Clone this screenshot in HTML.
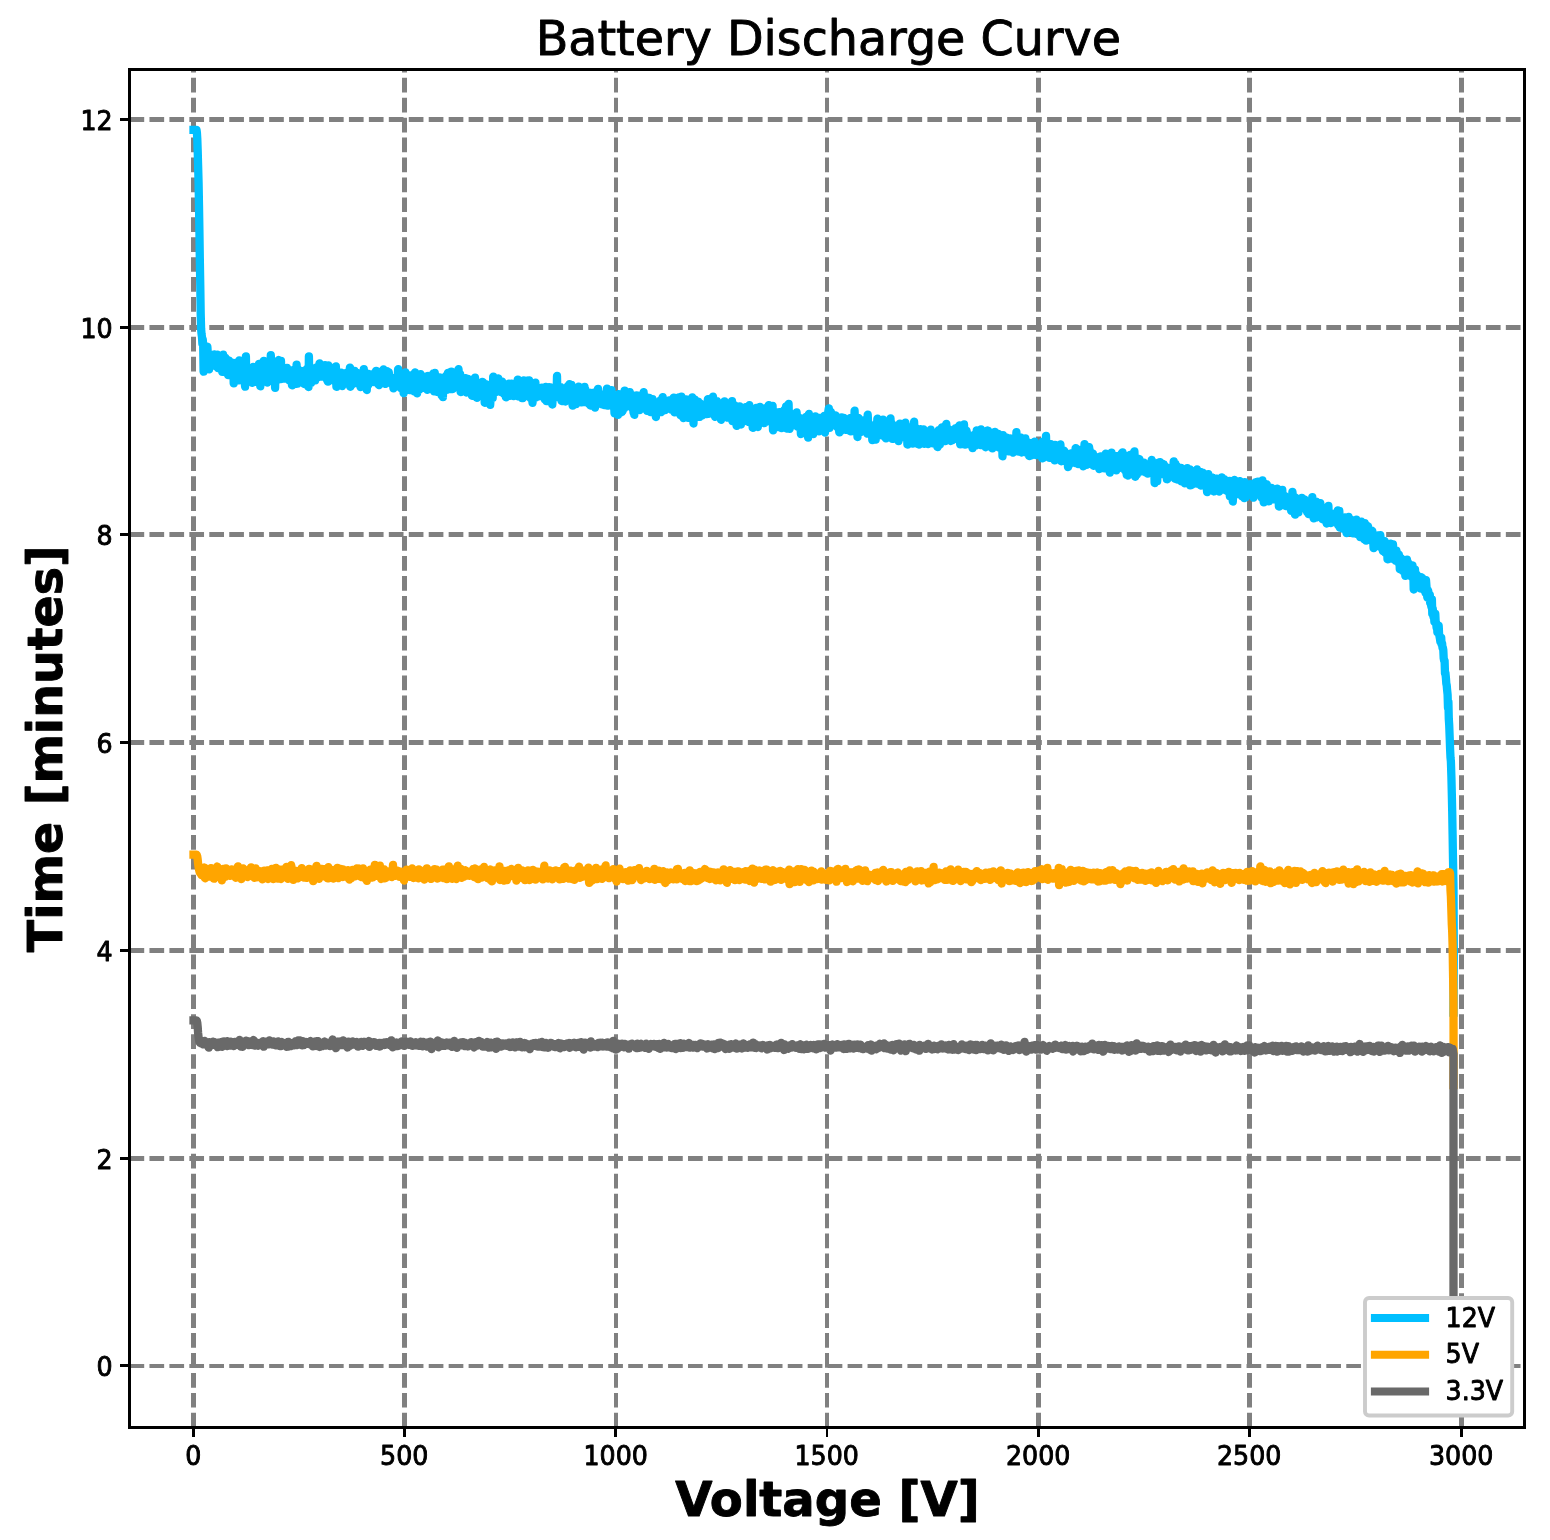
<!DOCTYPE html>
<html lang="en"><head><meta charset="utf-8"><title>Battery Discharge Curve</title>
<style>html,body{margin:0;padding:0;background:#fff;}body{width:1550px;height:1540px;overflow:hidden;}svg{display:block;}text{font-family:"DejaVu Sans","Liberation Sans",sans-serif;fill:#000;stroke:#000;stroke-width:0.90px;stroke-linejoin:round;}</style>
</head><body>
<svg width="1550" height="1540" viewBox="0 0 1550 1540">
<rect x="0" y="0" width="1550" height="1540" fill="#fff"/>
<defs><clipPath id="ax"><rect x="129.5" y="69.5" width="1395.0" height="1358.0"/></clipPath></defs>
<g clip-path="url(#ax)" stroke="#808080" fill="none">
<line stroke-dasharray="14.7 5.225" stroke-width="5.00" x1="193.50" y1="1427.50" x2="193.50" y2="69.50"/>
<line stroke-dasharray="14.7 5.225" stroke-width="5.00" x1="404.50" y1="1427.50" x2="404.50" y2="69.50"/>
<line stroke-dasharray="14.7 5.225" stroke-width="4.00" x1="616.00" y1="1427.50" x2="616.00" y2="69.50"/>
<line stroke-dasharray="14.7 5.225" stroke-width="4.00" x1="827.00" y1="1427.50" x2="827.00" y2="69.50"/>
<line stroke-dasharray="14.7 5.225" stroke-width="5.00" x1="1038.50" y1="1427.50" x2="1038.50" y2="69.50"/>
<line stroke-dasharray="14.7 5.225" stroke-width="5.00" x1="1249.50" y1="1427.50" x2="1249.50" y2="69.50"/>
<line stroke-dasharray="14.7 5.225" stroke-width="5.00" x1="1461.50" y1="1427.50" x2="1461.50" y2="69.50"/>
<line stroke-dasharray="14.7 5.247" stroke-width="4.00" x1="129.50" y1="1366.00" x2="1524.50" y2="1366.00"/>
<line stroke-dasharray="14.7 5.247" stroke-width="5.00" x1="129.50" y1="1158.50" x2="1524.50" y2="1158.50"/>
<line stroke-dasharray="14.7 5.247" stroke-width="5.00" x1="129.50" y1="950.50" x2="1524.50" y2="950.50"/>
<line stroke-dasharray="14.7 5.247" stroke-width="5.00" x1="129.50" y1="742.50" x2="1524.50" y2="742.50"/>
<line stroke-dasharray="14.7 5.247" stroke-width="5.00" x1="129.50" y1="534.50" x2="1524.50" y2="534.50"/>
<line stroke-dasharray="14.7 5.247" stroke-width="5.00" x1="129.50" y1="327.50" x2="1524.50" y2="327.50"/>
<line stroke-dasharray="14.7 5.247" stroke-width="5.00" x1="129.50" y1="119.50" x2="1524.50" y2="119.50"/>
</g>
<g clip-path="url(#ax)" fill="none" stroke-width="8.30" stroke-linejoin="round" stroke-linecap="square">
<polyline stroke="#00bfff" points="193.5,129.9 193.9,129.9 194.3,129.9 194.8,129.9 195.2,129.9 195.6,129.9 196.0,129.9 196.5,129.9 196.9,132.6 197.3,139.1 197.7,150.7 198.1,165.0 198.6,183.6 199.0,205.5 199.4,230.1 199.8,257.7 200.3,287.2 200.7,313.8 201.1,328.6 201.5,333.5 202.0,337.2 202.4,343.9 202.8,339.7 203.2,346.1 203.6,371.7 204.1,368.3 204.5,359.2 204.9,361.6 205.3,358.1 205.8,358.0 206.2,346.4 206.6,366.1 207.0,361.7 207.4,346.9 207.9,355.4 208.3,355.3 208.7,362.5 209.1,369.4 209.6,358.3 210.0,358.7 210.4,366.8 210.8,363.5 211.3,359.8 211.7,365.2 212.1,360.0 212.5,358.9 212.9,359.3 213.4,362.7 213.8,356.0 214.2,354.3 214.6,357.8 215.1,364.8 215.5,355.5 215.9,363.1 216.3,354.8 216.7,366.8 217.2,354.7 217.6,360.6 218.0,368.2 218.4,362.6 218.9,360.5 219.3,359.3 219.7,367.0 220.1,367.9 220.6,360.1 221.0,364.3 221.4,360.2 221.8,357.1 222.2,371.9 222.7,360.5 223.1,354.7 223.5,364.1 223.9,367.4 224.4,358.0 224.8,361.3 225.2,357.6 225.6,365.4 226.0,372.6 226.5,364.5 226.9,366.9 227.3,359.8 227.7,363.7 228.2,375.2 228.6,372.9 229.0,360.6 229.4,362.2 229.8,370.6 230.3,367.1 230.7,364.7 231.1,364.9 231.5,362.8 232.0,366.9 232.4,369.4 232.8,370.7 233.2,363.0 233.7,383.4 234.1,370.8 234.5,370.0 234.9,379.1 235.3,368.5 235.8,374.7 236.2,365.5 236.6,371.6 237.0,366.8 237.5,363.5 237.9,368.7 238.3,376.4 238.7,380.3 239.1,360.4 239.6,371.9 240.0,375.4 240.4,370.4 240.8,372.4 241.3,366.1 241.7,371.1 242.1,371.3 242.5,375.7 243.0,368.6 243.4,377.8 243.8,367.4 244.2,362.3 244.6,380.9 245.1,386.7 245.5,368.0 245.9,356.3 246.3,378.1 246.8,379.8 247.2,368.9 247.6,377.9 248.0,376.3 248.4,375.7 248.9,370.8 249.3,376.9 249.7,373.2 250.1,376.3 250.6,380.7 251.0,377.7 251.4,381.7 251.8,375.9 252.3,382.8 252.7,382.6 253.1,367.0 253.5,376.1 253.9,376.0 254.4,372.4 254.8,378.0 255.2,376.7 255.6,372.5 256.1,373.2 256.5,381.9 256.9,369.5 257.3,378.0 257.7,380.7 258.2,379.6 258.6,376.3 259.0,363.9 259.4,380.7 259.9,372.5 260.3,386.3 260.7,373.2 261.1,367.6 261.5,374.4 262.0,376.7 262.4,371.5 262.8,368.6 263.2,368.8 263.7,360.9 264.1,371.4 264.5,376.2 264.9,373.4 265.4,373.0 265.8,371.9 266.2,372.7 266.6,371.4 267.0,382.5 267.5,367.5 267.9,375.8 268.3,379.4 268.7,368.5 269.2,364.5 269.6,369.3 270.0,371.3 270.4,377.8 270.8,355.1 271.3,366.9 271.7,378.9 272.1,376.7 272.5,371.6 273.0,381.3 273.4,371.1 273.8,374.7 274.2,364.8 274.7,366.3 275.1,387.9 275.5,371.7 275.9,381.5 276.3,365.4 276.8,370.9 277.2,368.7 277.6,378.1 278.0,361.2 278.5,360.0 278.9,378.1 279.3,369.7 279.7,375.8 280.1,372.0 280.6,379.2 281.0,361.0 281.4,377.5 281.8,373.5 282.3,368.9 282.7,375.6 283.1,373.2 283.5,375.1 284.0,372.6 284.4,378.7 284.8,374.5 285.2,373.2 285.6,374.0 286.1,371.9 286.5,374.0 286.9,368.0 287.3,374.3 287.8,373.4 288.2,376.5 288.6,375.8 289.0,380.2 289.4,370.1 289.9,379.7 290.3,377.6 290.7,371.4 291.1,371.3 291.6,376.0 292.0,385.3 292.4,371.5 292.8,372.6 293.2,382.2 293.7,369.9 294.1,378.3 294.5,380.8 294.9,374.0 295.4,375.6 295.8,373.6 296.2,383.8 296.6,364.6 297.1,378.3 297.5,383.6 297.9,371.4 298.3,376.9 298.7,373.1 299.2,376.8 299.6,375.2 300.0,373.5 300.4,379.0 300.9,371.0 301.3,377.4 301.7,379.5 302.1,374.2 302.5,372.1 303.0,375.8 303.4,379.2 303.8,370.9 304.2,384.0 304.7,379.9 305.1,373.9 305.5,381.6 305.9,373.8 306.4,374.2 306.8,368.8 307.2,378.7 307.6,377.1 308.0,371.7 308.5,387.0 308.9,356.3 309.3,377.1 309.7,377.2 310.2,368.4 310.6,373.3 311.0,382.8 311.4,369.6 311.8,368.3 312.3,375.4 312.7,374.4 313.1,370.2 313.5,377.8 314.0,370.5 314.4,371.8 314.8,376.5 315.2,380.4 315.7,374.1 316.1,377.6 316.5,367.4 316.9,372.1 317.3,368.6 317.8,372.1 318.2,371.4 318.6,377.1 319.0,369.3 319.5,363.3 319.9,374.5 320.3,376.0 320.7,373.7 321.1,375.4 321.6,376.6 322.0,372.1 322.4,374.4 322.8,365.2 323.3,372.9 323.7,371.1 324.1,367.8 324.5,374.5 324.9,365.2 325.4,376.2 325.8,377.1 326.2,374.8 326.6,373.5 327.1,380.3 327.5,373.0 327.9,381.7 328.3,365.5 328.8,373.3 329.2,376.2 329.6,377.6 330.0,374.9 330.4,374.1 330.9,378.5 331.3,377.9 331.7,374.2 332.1,376.0 332.6,368.5 333.0,367.6 333.4,373.6 333.8,371.4 334.2,381.0 334.7,370.9 335.1,374.6 335.5,372.1 335.9,366.5 336.4,386.8 336.8,373.8 337.2,381.1 337.6,372.5 338.1,382.6 338.5,378.6 338.9,375.2 339.3,373.2 339.7,376.2 340.2,380.8 340.6,379.8 341.0,372.6 341.4,377.3 341.9,386.0 342.3,373.2 342.7,375.5 343.1,373.3 343.5,379.6 344.0,373.7 344.4,383.4 344.8,375.1 345.2,380.6 345.7,374.7 346.1,373.0 346.5,381.9 346.9,378.5 347.4,378.0 347.8,372.2 348.2,374.7 348.6,384.4 349.0,376.0 349.5,374.6 349.9,367.7 350.3,386.8 350.7,381.1 351.2,371.7 351.6,385.2 352.0,384.4 352.4,375.9 352.8,373.4 353.3,381.8 353.7,375.8 354.1,377.9 354.5,371.0 355.0,378.6 355.4,373.7 355.8,383.1 356.2,379.5 356.6,379.1 357.1,373.0 357.5,375.8 357.9,382.3 358.3,375.3 358.8,374.9 359.2,379.2 359.6,380.0 360.0,379.6 360.5,387.0 360.9,377.8 361.3,377.6 361.7,383.0 362.1,375.1 362.6,385.5 363.0,381.5 363.4,381.1 363.8,369.1 364.3,386.6 364.7,376.1 365.1,374.2 365.5,377.0 365.9,373.1 366.4,383.8 366.8,390.0 367.2,375.2 367.6,384.8 368.1,380.5 368.5,384.7 368.9,373.8 369.3,374.8 369.8,382.5 370.2,374.6 370.6,378.5 371.0,379.8 371.4,378.8 371.9,380.1 372.3,376.2 372.7,377.7 373.1,380.9 373.6,374.3 374.0,382.2 374.4,377.9 374.8,377.2 375.2,372.1 375.7,381.8 376.1,370.9 376.5,378.5 376.9,380.4 377.4,382.7 377.8,376.6 378.2,379.3 378.6,384.9 379.1,385.1 379.5,382.3 379.9,382.9 380.3,374.3 380.7,373.0 381.2,375.5 381.6,378.0 382.0,381.9 382.4,379.6 382.9,375.5 383.3,369.5 383.7,375.5 384.1,381.3 384.5,379.8 385.0,382.4 385.4,383.9 385.8,381.0 386.2,379.2 386.7,371.2 387.1,379.9 387.5,373.6 387.9,371.7 388.3,379.9 388.8,372.5 389.2,376.9 389.6,382.5 390.0,379.2 390.5,380.4 390.9,381.7 391.3,381.6 391.7,379.9 392.2,378.6 392.6,385.1 393.0,380.8 393.4,388.3 393.8,379.6 394.3,377.9 394.7,380.2 395.1,379.7 395.5,378.3 396.0,384.5 396.4,382.5 396.8,378.9 397.2,376.6 397.6,379.6 398.1,369.2 398.5,382.2 398.9,376.9 399.3,375.7 399.8,382.6 400.2,386.1 400.6,387.9 401.0,381.5 401.5,376.9 401.9,381.1 402.3,381.7 402.7,384.4 403.1,379.9 403.6,393.2 404.0,381.7 404.4,382.8 404.8,389.7 405.3,372.4 405.7,389.9 406.1,388.5 406.5,389.1 406.9,377.9 407.4,387.7 407.8,380.2 408.2,380.6 408.6,382.3 409.1,390.0 409.5,386.6 409.9,375.5 410.3,390.0 410.8,387.8 411.2,384.5 411.6,379.8 412.0,382.5 412.4,380.1 412.9,389.0 413.3,379.1 413.7,381.0 414.1,391.5 414.6,376.2 415.0,372.5 415.4,387.4 415.8,383.4 416.2,376.8 416.7,390.8 417.1,393.3 417.5,389.8 417.9,386.2 418.4,386.3 418.8,380.4 419.2,382.0 419.6,389.4 420.0,380.5 420.5,374.1 420.9,377.3 421.3,378.3 421.7,383.0 422.2,378.2 422.6,387.7 423.0,379.3 423.4,383.3 423.9,377.3 424.3,380.5 424.7,388.1 425.1,382.1 425.5,376.7 426.0,388.1 426.4,385.3 426.8,386.3 427.2,389.8 427.7,377.8 428.1,376.0 428.5,378.5 428.9,381.2 429.3,382.6 429.8,381.1 430.2,385.8 430.6,377.9 431.0,377.1 431.5,377.7 431.9,384.8 432.3,381.8 432.7,383.0 433.2,373.5 433.6,381.3 434.0,391.4 434.4,380.3 434.8,373.0 435.3,378.9 435.7,377.9 436.1,382.0 436.5,391.8 437.0,391.0 437.4,388.3 437.8,382.8 438.2,380.7 438.6,378.8 439.1,383.9 439.5,377.5 439.9,383.6 440.3,385.6 440.8,378.0 441.2,386.7 441.6,395.5 442.0,387.4 442.5,381.7 442.9,397.2 443.3,383.9 443.7,383.8 444.1,389.2 444.6,389.4 445.0,384.5 445.4,384.9 445.8,376.0 446.3,380.4 446.7,389.9 447.1,386.4 447.5,378.8 447.9,372.9 448.4,380.3 448.8,380.7 449.2,373.1 449.6,382.3 450.1,383.7 450.5,389.1 450.9,384.7 451.3,371.6 451.7,389.1 452.2,382.1 452.6,389.1 453.0,381.6 453.4,377.9 453.9,383.4 454.3,378.6 454.7,378.7 455.1,380.1 455.6,373.9 456.0,378.5 456.4,383.8 456.8,385.7 457.2,386.5 457.7,380.1 458.1,384.0 458.5,369.2 458.9,373.6 459.4,383.6 459.8,384.3 460.2,374.5 460.6,392.0 461.0,385.0 461.5,378.3 461.9,387.4 462.3,385.4 462.7,384.8 463.2,379.9 463.6,382.6 464.0,381.4 464.4,380.5 464.9,383.3 465.3,378.1 465.7,387.2 466.1,390.7 466.5,392.5 467.0,391.8 467.4,386.6 467.8,379.0 468.2,383.3 468.7,387.1 469.1,389.5 469.5,386.9 469.9,386.4 470.3,387.3 470.8,391.7 471.2,387.2 471.6,380.0 472.0,395.8 472.5,386.5 472.9,395.8 473.3,384.8 473.7,389.5 474.2,396.2 474.6,385.8 475.0,377.6 475.4,386.1 475.8,381.2 476.3,387.4 476.7,397.8 477.1,385.0 477.5,389.7 478.0,394.9 478.4,384.2 478.8,386.8 479.2,390.9 479.6,384.3 480.1,392.9 480.5,385.7 480.9,393.5 481.3,386.4 481.8,394.5 482.2,382.0 482.6,388.1 483.0,382.4 483.4,393.4 483.9,391.8 484.3,385.4 484.7,402.8 485.1,394.6 485.6,384.3 486.0,387.0 486.4,384.4 486.8,390.5 487.3,386.1 487.7,392.3 488.1,395.2 488.5,396.6 488.9,390.9 489.4,390.7 489.8,390.9 490.2,404.9 490.6,397.2 491.1,389.9 491.5,385.7 491.9,389.8 492.3,391.1 492.7,397.9 493.2,376.7 493.6,391.8 494.0,378.2 494.4,378.7 494.9,385.0 495.3,389.2 495.7,385.7 496.1,392.0 496.6,385.2 497.0,386.5 497.4,384.0 497.8,382.0 498.2,378.3 498.7,388.7 499.1,381.8 499.5,390.9 499.9,391.5 500.4,390.3 500.8,392.1 501.2,382.7 501.6,383.1 502.0,381.5 502.5,388.0 502.9,386.6 503.3,390.9 503.7,393.8 504.2,386.2 504.6,387.2 505.0,394.0 505.4,385.8 505.9,397.3 506.3,389.8 506.7,392.1 507.1,391.7 507.5,394.5 508.0,384.6 508.4,386.5 508.8,383.6 509.2,388.8 509.7,395.8 510.1,391.3 510.5,395.3 510.9,387.3 511.3,383.6 511.8,387.8 512.2,392.3 512.6,391.1 513.0,388.2 513.5,396.2 513.9,388.3 514.3,387.9 514.7,391.4 515.1,390.7 515.6,387.7 516.0,392.4 516.4,392.3 516.8,384.3 517.3,386.9 517.7,379.7 518.1,392.6 518.5,396.4 519.0,383.1 519.4,382.9 519.8,391.2 520.2,394.7 520.6,387.7 521.1,396.1 521.5,389.2 521.9,398.2 522.3,388.8 522.8,398.0 523.2,388.9 523.6,380.4 524.0,389.2 524.4,384.2 524.9,391.2 525.3,392.5 525.7,395.5 526.1,383.2 526.6,388.7 527.0,380.6 527.4,394.4 527.8,389.9 528.3,388.5 528.7,382.2 529.1,380.3 529.5,392.5 529.9,395.0 530.4,398.1 530.8,383.3 531.2,390.4 531.6,393.2 532.1,390.5 532.5,402.9 532.9,398.9 533.3,386.1 533.7,388.9 534.2,390.2 534.6,396.0 535.0,388.4 535.4,382.7 535.9,397.5 536.3,391.6 536.7,393.9 537.1,390.1 537.6,391.9 538.0,392.9 538.4,396.5 538.8,392.4 539.2,395.4 539.7,393.3 540.1,392.9 540.5,389.5 540.9,395.6 541.4,394.4 541.8,387.7 542.2,394.0 542.6,394.3 543.0,388.9 543.5,391.8 543.9,392.7 544.3,392.2 544.7,399.3 545.2,391.1 545.6,386.9 546.0,390.6 546.4,401.1 546.8,392.1 547.3,398.0 547.7,394.7 548.1,393.0 548.5,399.5 549.0,387.2 549.4,394.1 549.8,390.0 550.2,390.8 550.7,387.4 551.1,388.1 551.5,401.2 551.9,393.8 552.3,404.5 552.8,396.3 553.2,390.6 553.6,389.7 554.0,387.9 554.5,396.1 554.9,392.7 555.3,393.8 555.7,388.2 556.1,386.6 556.6,396.2 557.0,376.0 557.4,394.5 557.8,396.3 558.3,391.6 558.7,390.9 559.1,391.9 559.5,397.8 560.0,387.5 560.4,394.4 560.8,387.2 561.2,387.9 561.6,401.0 562.1,399.6 562.5,399.7 562.9,393.6 563.3,394.6 563.8,393.6 564.2,398.9 564.6,392.8 565.0,388.1 565.4,401.5 565.9,395.9 566.3,393.8 566.7,395.6 567.1,396.0 567.6,386.4 568.0,388.8 568.4,390.9 568.8,398.8 569.3,384.2 569.7,393.4 570.1,398.0 570.5,396.8 570.9,397.6 571.4,384.8 571.8,394.2 572.2,394.9 572.6,405.7 573.1,391.6 573.5,400.4 573.9,400.8 574.3,392.3 574.7,399.5 575.2,391.3 575.6,389.9 576.0,404.1 576.4,396.1 576.9,403.1 577.3,395.7 577.7,391.0 578.1,402.1 578.5,386.7 579.0,397.0 579.4,401.3 579.8,396.2 580.2,391.7 580.7,402.3 581.1,395.6 581.5,402.4 581.9,389.8 582.4,395.0 582.8,397.9 583.2,390.8 583.6,402.1 584.0,397.8 584.5,386.9 584.9,396.6 585.3,389.4 585.7,395.1 586.2,399.5 586.6,397.4 587.0,395.8 587.4,398.3 587.8,400.4 588.3,400.2 588.7,403.7 589.1,396.0 589.5,394.7 590.0,393.0 590.4,405.5 590.8,392.8 591.2,396.9 591.7,403.9 592.1,396.5 592.5,393.1 592.9,394.6 593.3,393.6 593.8,392.6 594.2,393.0 594.6,397.6 595.0,407.6 595.5,401.3 595.9,395.9 596.3,400.0 596.7,394.4 597.1,394.0 597.6,397.7 598.0,388.8 598.4,402.8 598.8,393.6 599.3,400.5 599.7,402.1 600.1,395.5 600.5,401.5 601.0,394.3 601.4,404.3 601.8,398.5 602.2,402.9 602.6,400.0 603.1,400.7 603.5,404.5 603.9,395.9 604.3,405.2 604.8,404.0 605.2,395.0 605.6,394.7 606.0,396.3 606.4,397.9 606.9,388.6 607.3,405.7 607.7,403.5 608.1,404.9 608.6,395.7 609.0,398.8 609.4,394.9 609.8,395.7 610.2,401.7 610.7,404.7 611.1,405.6 611.5,390.1 611.9,396.3 612.4,398.2 612.8,402.9 613.2,402.3 613.6,403.1 614.1,403.2 614.5,413.4 614.9,402.1 615.3,403.7 615.7,400.6 616.2,401.1 616.6,398.0 617.0,402.3 617.4,398.5 617.9,414.9 618.3,407.9 618.7,394.2 619.1,408.6 619.5,404.1 620.0,399.3 620.4,407.1 620.8,399.3 621.2,409.9 621.7,412.3 622.1,409.5 622.5,411.1 622.9,403.1 623.4,404.6 623.8,401.4 624.2,408.1 624.6,390.6 625.0,403.4 625.5,403.2 625.9,400.7 626.3,404.0 626.7,405.8 627.2,402.2 627.6,398.1 628.0,399.2 628.4,397.8 628.8,405.0 629.3,405.9 629.7,392.2 630.1,403.1 630.5,399.4 631.0,398.1 631.4,394.6 631.8,408.0 632.2,403.6 632.7,403.3 633.1,402.5 633.5,412.7 633.9,401.3 634.3,414.8 634.8,399.1 635.2,397.8 635.6,397.4 636.0,406.2 636.5,395.5 636.9,404.3 637.3,406.0 637.7,404.8 638.1,404.1 638.6,399.1 639.0,395.9 639.4,410.1 639.8,402.5 640.3,395.6 640.7,399.0 641.1,397.7 641.5,407.6 641.9,395.8 642.4,408.3 642.8,399.9 643.2,394.5 643.6,392.2 644.1,399.1 644.5,397.6 644.9,405.2 645.3,404.9 645.8,397.2 646.2,403.2 646.6,404.2 647.0,410.8 647.4,403.5 647.9,401.5 648.3,408.8 648.7,407.8 649.1,397.9 649.6,405.1 650.0,407.7 650.4,412.1 650.8,409.9 651.2,408.4 651.7,400.7 652.1,410.6 652.5,399.1 652.9,412.6 653.4,410.0 653.8,404.3 654.2,409.7 654.6,412.7 655.1,409.3 655.5,406.5 655.9,417.0 656.3,409.9 656.7,409.1 657.2,410.5 657.6,404.9 658.0,411.2 658.4,410.1 658.9,408.1 659.3,404.6 659.7,409.1 660.1,400.5 660.5,412.2 661.0,401.4 661.4,411.7 661.8,408.2 662.2,405.5 662.7,397.1 663.1,402.6 663.5,408.8 663.9,400.3 664.4,407.5 664.8,410.2 665.2,404.0 665.6,405.6 666.0,401.2 666.5,408.4 666.9,403.7 667.3,402.3 667.7,404.0 668.2,405.3 668.6,408.5 669.0,400.5 669.4,404.2 669.8,402.3 670.3,406.3 670.7,404.5 671.1,409.5 671.5,404.0 672.0,400.6 672.4,403.9 672.8,400.1 673.2,402.8 673.6,397.7 674.1,405.3 674.5,412.4 674.9,402.4 675.3,405.4 675.8,409.5 676.2,401.7 676.6,403.7 677.0,403.0 677.5,407.0 677.9,404.6 678.3,404.5 678.7,397.3 679.1,409.5 679.6,406.4 680.0,404.8 680.4,415.2 680.8,414.8 681.3,396.7 681.7,416.1 682.1,404.9 682.5,412.0 682.9,411.8 683.4,418.0 683.8,412.9 684.2,404.9 684.6,415.6 685.1,406.1 685.5,407.7 685.9,399.5 686.3,411.7 686.8,403.4 687.2,405.3 687.6,411.1 688.0,417.8 688.4,402.3 688.9,416.4 689.3,412.0 689.7,405.4 690.1,404.2 690.6,413.8 691.0,409.8 691.4,410.9 691.8,403.8 692.2,397.4 692.7,418.5 693.1,405.1 693.5,423.5 693.9,409.4 694.4,414.8 694.8,399.7 695.2,408.6 695.6,412.9 696.1,411.7 696.5,412.0 696.9,408.3 697.3,409.9 697.7,405.9 698.2,401.6 698.6,405.6 699.0,415.0 699.4,416.9 699.9,412.6 700.3,403.7 700.7,410.4 701.1,412.0 701.5,408.0 702.0,415.6 702.4,414.2 702.8,406.1 703.2,410.0 703.7,410.7 704.1,406.9 704.5,411.3 704.9,411.7 705.3,410.6 705.8,405.4 706.2,408.0 706.6,414.1 707.0,409.7 707.5,405.1 707.9,399.1 708.3,413.8 708.7,406.5 709.2,409.4 709.6,404.1 710.0,406.0 710.4,401.0 710.8,405.6 711.3,410.8 711.7,410.8 712.1,406.3 712.5,406.4 713.0,396.6 713.4,400.2 713.8,414.2 714.2,406.9 714.6,415.1 715.1,416.8 715.5,405.2 715.9,406.3 716.3,414.1 716.8,401.2 717.2,414.1 717.6,415.1 718.0,406.4 718.5,408.6 718.9,410.6 719.3,410.3 719.7,409.0 720.1,410.9 720.6,411.2 721.0,419.8 721.4,417.2 721.8,407.8 722.3,414.4 722.7,408.4 723.1,405.2 723.5,413.1 723.9,410.1 724.4,401.4 724.8,408.3 725.2,402.8 725.6,404.4 726.1,408.4 726.5,412.7 726.9,416.3 727.3,417.7 727.8,410.0 728.2,410.2 728.6,413.4 729.0,408.5 729.4,415.7 729.9,407.4 730.3,412.7 730.7,413.2 731.1,413.1 731.6,413.7 732.0,401.1 732.4,421.2 732.8,412.6 733.2,407.5 733.7,410.1 734.1,415.2 734.5,405.3 734.9,419.1 735.4,420.4 735.8,411.3 736.2,421.3 736.6,425.9 737.0,410.0 737.5,410.7 737.9,410.9 738.3,417.0 738.7,413.8 739.2,419.4 739.6,406.3 740.0,411.0 740.4,411.3 740.9,424.5 741.3,411.1 741.7,407.8 742.1,409.2 742.5,411.3 743.0,415.2 743.4,416.9 743.8,412.4 744.2,413.5 744.7,414.2 745.1,416.9 745.5,407.2 745.9,421.1 746.3,415.5 746.8,418.3 747.2,410.4 747.6,408.4 748.0,409.3 748.5,411.7 748.9,422.2 749.3,405.2 749.7,412.9 750.2,415.9 750.6,415.2 751.0,417.0 751.4,413.2 751.8,413.8 752.3,417.0 752.7,427.8 753.1,415.4 753.5,412.9 754.0,412.6 754.4,415.9 754.8,413.0 755.2,410.1 755.6,417.4 756.1,408.0 756.5,424.7 756.9,421.3 757.3,419.5 757.8,427.0 758.2,420.0 758.6,409.0 759.0,409.1 759.5,414.7 759.9,406.8 760.3,414.0 760.7,417.6 761.1,414.1 761.6,416.0 762.0,411.8 762.4,422.7 762.8,410.6 763.3,417.8 763.7,411.4 764.1,423.2 764.5,417.8 764.9,415.4 765.4,411.5 765.8,421.9 766.2,407.9 766.6,413.7 767.1,418.7 767.5,410.3 767.9,415.9 768.3,410.8 768.7,405.2 769.2,412.9 769.6,419.3 770.0,418.9 770.4,414.1 770.9,415.6 771.3,421.2 771.7,420.5 772.1,414.0 772.6,405.9 773.0,430.3 773.4,414.0 773.8,418.7 774.2,413.9 774.7,413.6 775.1,417.7 775.5,423.0 775.9,424.9 776.4,427.3 776.8,412.3 777.2,419.3 777.6,421.0 778.0,419.8 778.5,425.0 778.9,417.1 779.3,412.2 779.7,413.1 780.2,426.3 780.6,412.1 781.0,422.5 781.4,428.2 781.9,424.9 782.3,423.6 782.7,419.0 783.1,424.0 783.5,426.4 784.0,420.4 784.4,409.7 784.8,422.6 785.2,416.9 785.7,418.8 786.1,406.3 786.5,428.6 786.9,414.0 787.3,425.6 787.8,422.3 788.2,419.9 788.6,403.9 789.0,423.3 789.5,428.8 789.9,413.3 790.3,423.8 790.7,420.9 791.2,419.9 791.6,419.3 792.0,420.7 792.4,418.6 792.8,418.1 793.3,415.9 793.7,422.2 794.1,423.8 794.5,425.4 795.0,417.4 795.4,420.6 795.8,417.7 796.2,417.9 796.6,412.4 797.1,419.8 797.5,417.2 797.9,426.9 798.3,426.4 798.8,422.8 799.2,427.4 799.6,418.2 800.0,428.3 800.4,421.6 800.9,434.1 801.3,427.6 801.7,424.1 802.1,423.8 802.6,431.5 803.0,422.4 803.4,418.3 803.8,420.0 804.3,426.6 804.7,426.4 805.1,429.4 805.5,420.7 805.9,416.9 806.4,426.6 806.8,432.4 807.2,423.3 807.6,420.9 808.1,437.7 808.5,423.9 808.9,414.0 809.3,420.7 809.7,422.0 810.2,422.8 810.6,419.6 811.0,429.4 811.4,428.9 811.9,422.8 812.3,428.1 812.7,423.5 813.1,434.0 813.6,421.0 814.0,420.5 814.4,424.3 814.8,423.7 815.2,416.5 815.7,429.7 816.1,428.8 816.5,429.6 816.9,426.3 817.4,429.1 817.8,423.9 818.2,427.1 818.6,431.0 819.0,431.4 819.5,417.8 819.9,424.0 820.3,424.7 820.7,423.3 821.2,423.8 821.6,419.6 822.0,420.5 822.4,426.0 822.9,427.1 823.3,428.3 823.7,429.0 824.1,416.0 824.5,427.2 825.0,432.5 825.4,426.7 825.8,426.4 826.2,420.9 826.7,426.8 827.1,419.8 827.5,420.4 827.9,416.1 828.3,411.7 828.8,408.3 829.2,415.6 829.6,427.8 830.0,424.2 830.5,421.0 830.9,412.1 831.3,418.9 831.7,416.4 832.1,423.2 832.6,419.5 833.0,419.0 833.4,424.9 833.8,419.0 834.3,417.7 834.7,423.8 835.1,418.3 835.5,415.3 836.0,423.2 836.4,423.7 836.8,425.4 837.2,427.1 837.6,423.5 838.1,426.4 838.5,426.1 838.9,428.5 839.3,432.4 839.8,429.6 840.2,423.6 840.6,431.1 841.0,428.6 841.4,417.5 841.9,420.1 842.3,429.1 842.7,422.8 843.1,429.0 843.6,417.9 844.0,428.7 844.4,425.4 844.8,419.0 845.3,429.8 845.7,419.3 846.1,429.6 846.5,424.4 846.9,426.9 847.4,425.9 847.8,424.6 848.2,425.6 848.6,430.2 849.1,420.9 849.5,421.5 849.9,418.7 850.3,418.1 850.7,431.4 851.2,418.5 851.6,418.3 852.0,427.2 852.4,419.5 852.9,417.3 853.3,427.1 853.7,431.1 854.1,426.1 854.6,410.7 855.0,423.2 855.4,430.3 855.8,425.6 856.2,429.3 856.7,426.4 857.1,424.0 857.5,437.0 857.9,422.8 858.4,417.8 858.8,425.7 859.2,426.7 859.6,419.6 860.0,431.2 860.5,431.2 860.9,432.0 861.3,426.1 861.7,423.5 862.2,426.0 862.6,423.0 863.0,421.7 863.4,423.5 863.8,430.0 864.3,427.5 864.7,420.2 865.1,431.5 865.5,427.8 866.0,428.7 866.4,427.7 866.8,432.2 867.2,433.6 867.7,414.7 868.1,422.7 868.5,430.9 868.9,427.8 869.3,424.3 869.8,429.4 870.2,424.8 870.6,430.9 871.0,429.8 871.5,428.5 871.9,430.4 872.3,440.2 872.7,428.2 873.1,427.1 873.6,426.2 874.0,433.4 874.4,426.9 874.8,427.6 875.3,437.4 875.7,439.6 876.1,426.6 876.5,433.6 877.0,424.1 877.4,418.6 877.8,432.0 878.2,432.6 878.6,429.3 879.1,426.0 879.5,434.9 879.9,423.4 880.3,424.7 880.8,426.3 881.2,432.3 881.6,425.2 882.0,425.6 882.4,435.7 882.9,419.7 883.3,431.4 883.7,428.2 884.1,432.6 884.6,428.2 885.0,424.5 885.4,434.1 885.8,438.3 886.3,432.5 886.7,436.7 887.1,434.1 887.5,431.1 887.9,430.8 888.4,424.3 888.8,435.6 889.2,429.0 889.6,433.2 890.1,424.1 890.5,418.5 890.9,429.4 891.3,422.8 891.7,433.6 892.2,438.9 892.6,437.3 893.0,438.9 893.4,435.9 893.9,432.4 894.3,425.7 894.7,427.9 895.1,429.1 895.5,433.5 896.0,435.0 896.4,431.4 896.8,430.9 897.2,430.4 897.7,429.8 898.1,432.3 898.5,441.1 898.9,437.2 899.4,435.9 899.8,423.6 900.2,434.0 900.6,428.7 901.0,424.9 901.5,430.4 901.9,434.0 902.3,433.6 902.7,437.2 903.2,430.7 903.6,426.8 904.0,429.6 904.4,428.6 904.8,428.9 905.3,422.7 905.7,435.6 906.1,431.8 906.5,429.2 907.0,426.6 907.4,444.6 907.8,435.4 908.2,433.9 908.7,438.0 909.1,428.9 909.5,432.0 909.9,435.1 910.3,441.2 910.8,439.7 911.2,438.1 911.6,431.2 912.0,439.4 912.5,443.6 912.9,440.7 913.3,436.6 913.7,425.6 914.1,421.7 914.6,436.4 915.0,429.5 915.4,427.4 915.8,428.1 916.3,435.1 916.7,441.0 917.1,437.1 917.5,444.0 918.0,433.9 918.4,431.4 918.8,444.5 919.2,435.7 919.6,434.2 920.1,429.6 920.5,429.1 920.9,432.1 921.3,439.5 921.8,438.1 922.2,430.6 922.6,439.5 923.0,436.9 923.4,429.3 923.9,436.4 924.3,443.8 924.7,438.7 925.1,434.3 925.6,438.5 926.0,432.0 926.4,431.5 926.8,441.1 927.2,440.5 927.7,438.6 928.1,444.1 928.5,436.5 928.9,439.3 929.4,434.6 929.8,441.5 930.2,442.9 930.6,429.7 931.1,443.0 931.5,441.6 931.9,442.4 932.3,440.3 932.7,443.3 933.2,439.1 933.6,442.3 934.0,440.9 934.4,437.1 934.9,435.4 935.3,436.6 935.7,442.4 936.1,436.8 936.5,439.3 937.0,439.2 937.4,447.0 937.8,435.3 938.2,439.2 938.7,430.1 939.1,435.2 939.5,443.7 939.9,444.9 940.4,432.5 940.8,442.2 941.2,434.5 941.6,439.3 942.0,427.4 942.5,437.2 942.9,430.1 943.3,430.9 943.7,439.5 944.2,438.8 944.6,429.8 945.0,436.9 945.4,441.1 945.8,430.8 946.3,424.0 946.7,436.7 947.1,429.5 947.5,437.0 948.0,429.5 948.4,437.2 948.8,429.4 949.2,433.2 949.7,436.6 950.1,434.5 950.5,438.2 950.9,441.0 951.3,440.5 951.8,435.6 952.2,440.4 952.6,433.0 953.0,432.5 953.5,432.8 953.9,437.5 954.3,434.7 954.7,435.1 955.1,428.5 955.6,438.9 956.0,436.8 956.4,436.1 956.8,435.7 957.3,438.7 957.7,438.2 958.1,430.2 958.5,438.3 958.9,430.8 959.4,425.5 959.8,429.3 960.2,444.4 960.6,431.9 961.1,433.5 961.5,433.3 961.9,444.0 962.3,432.5 962.8,441.7 963.2,430.2 963.6,431.4 964.0,424.3 964.4,438.8 964.9,444.5 965.3,432.1 965.7,433.1 966.1,439.3 966.6,430.9 967.0,434.3 967.4,444.1 967.8,439.7 968.2,440.2 968.7,438.7 969.1,437.3 969.5,441.7 969.9,439.3 970.4,435.6 970.8,438.9 971.2,439.9 971.6,440.1 972.1,439.2 972.5,448.1 972.9,438.0 973.3,443.9 973.7,438.4 974.2,446.1 974.6,434.5 975.0,437.9 975.4,445.7 975.9,438.0 976.3,442.9 976.7,430.4 977.1,436.9 977.5,443.2 978.0,438.3 978.4,439.6 978.8,433.6 979.2,437.7 979.7,437.0 980.1,445.0 980.5,435.7 980.9,429.4 981.4,436.5 981.8,439.9 982.2,438.9 982.6,444.4 983.0,438.9 983.5,445.2 983.9,439.6 984.3,441.8 984.7,444.0 985.2,437.1 985.6,447.3 986.0,440.3 986.4,446.6 986.8,431.2 987.3,430.5 987.7,436.1 988.1,431.0 988.5,437.4 989.0,437.7 989.4,442.5 989.8,444.8 990.2,439.9 990.6,443.2 991.1,442.7 991.5,437.1 991.9,441.3 992.3,448.4 992.8,441.9 993.2,444.6 993.6,442.4 994.0,446.4 994.5,435.2 994.9,431.8 995.3,446.6 995.7,438.1 996.1,438.4 996.6,446.7 997.0,441.0 997.4,434.7 997.8,437.6 998.3,433.9 998.7,447.6 999.1,445.6 999.5,440.7 999.9,440.5 1000.4,442.2 1000.8,444.3 1001.2,444.5 1001.6,445.6 1002.1,440.5 1002.5,456.3 1002.9,435.2 1003.3,445.7 1003.8,450.2 1004.2,440.7 1004.6,450.3 1005.0,441.7 1005.4,445.6 1005.9,440.9 1006.3,440.1 1006.7,437.7 1007.1,446.6 1007.6,445.7 1008.0,444.5 1008.4,451.4 1008.8,441.8 1009.2,444.2 1009.7,451.4 1010.1,439.1 1010.5,438.5 1010.9,451.7 1011.4,442.6 1011.8,439.4 1012.2,441.5 1012.6,450.5 1013.1,452.6 1013.5,446.5 1013.9,448.4 1014.3,446.2 1014.7,446.7 1015.2,443.7 1015.6,449.1 1016.0,447.3 1016.4,432.1 1016.9,447.3 1017.3,443.2 1017.7,445.4 1018.1,445.9 1018.5,451.5 1019.0,444.5 1019.4,447.4 1019.8,443.3 1020.2,437.3 1020.7,446.5 1021.1,443.8 1021.5,452.5 1021.9,447.1 1022.3,440.1 1022.8,448.1 1023.2,451.0 1023.6,446.9 1024.0,448.9 1024.5,449.2 1024.9,450.0 1025.3,438.5 1025.7,452.5 1026.2,450.4 1026.6,451.2 1027.0,442.4 1027.4,449.9 1027.8,442.3 1028.3,447.9 1028.7,448.9 1029.1,456.0 1029.5,443.0 1030.0,446.3 1030.4,447.1 1030.8,449.7 1031.2,451.2 1031.6,455.4 1032.1,444.7 1032.5,448.0 1032.9,451.2 1033.3,452.5 1033.8,449.0 1034.2,450.0 1034.6,441.6 1035.0,445.9 1035.5,452.7 1035.9,455.2 1036.3,451.0 1036.7,454.4 1037.1,449.6 1037.6,448.0 1038.0,447.0 1038.4,448.1 1038.8,451.1 1039.3,447.3 1039.7,454.6 1040.1,450.7 1040.5,446.4 1040.9,449.0 1041.4,456.6 1041.8,456.1 1042.2,458.4 1042.6,441.7 1043.1,458.1 1043.5,451.3 1043.9,441.7 1044.3,445.4 1044.8,444.2 1045.2,453.1 1045.6,447.1 1046.0,435.9 1046.4,450.9 1046.9,448.8 1047.3,452.3 1047.7,450.9 1048.1,449.0 1048.6,444.1 1049.0,455.3 1049.4,457.9 1049.8,450.8 1050.2,449.9 1050.7,444.1 1051.1,447.5 1051.5,454.1 1051.9,448.3 1052.4,445.6 1052.8,449.7 1053.2,452.8 1053.6,447.9 1054.0,452.9 1054.5,460.3 1054.9,444.8 1055.3,457.6 1055.7,453.0 1056.2,453.1 1056.6,453.3 1057.0,453.1 1057.4,458.9 1057.9,449.5 1058.3,452.1 1058.7,452.2 1059.1,447.4 1059.5,447.5 1060.0,446.5 1060.4,444.3 1060.8,451.3 1061.2,461.3 1061.7,452.9 1062.1,454.2 1062.5,454.1 1062.9,457.7 1063.3,459.3 1063.8,451.3 1064.2,450.7 1064.6,461.2 1065.0,453.3 1065.5,457.0 1065.9,458.3 1066.3,453.3 1066.7,457.1 1067.2,459.7 1067.6,456.9 1068.0,467.1 1068.4,460.4 1068.8,459.8 1069.3,464.6 1069.7,457.1 1070.1,456.7 1070.5,461.0 1071.0,459.0 1071.4,454.9 1071.8,453.1 1072.2,461.9 1072.6,456.6 1073.1,453.2 1073.5,458.3 1073.9,461.9 1074.3,461.9 1074.8,459.7 1075.2,463.1 1075.6,448.2 1076.0,460.8 1076.5,456.1 1076.9,457.0 1077.3,454.7 1077.7,459.6 1078.1,464.0 1078.6,449.6 1079.0,458.0 1079.4,456.9 1079.8,456.5 1080.3,451.2 1080.7,453.6 1081.1,451.5 1081.5,453.1 1081.9,456.3 1082.4,455.8 1082.8,460.6 1083.2,466.4 1083.6,458.0 1084.1,462.0 1084.5,444.1 1084.9,449.1 1085.3,450.9 1085.7,459.3 1086.2,446.5 1086.6,464.8 1087.0,462.4 1087.4,460.3 1087.9,461.1 1088.3,455.8 1088.7,455.5 1089.1,447.1 1089.6,451.6 1090.0,450.6 1090.4,454.6 1090.8,457.4 1091.2,460.1 1091.7,464.3 1092.1,461.3 1092.5,459.1 1092.9,453.6 1093.4,465.8 1093.8,464.4 1094.2,456.9 1094.6,463.2 1095.0,456.7 1095.5,460.6 1095.9,462.5 1096.3,465.5 1096.7,459.7 1097.2,463.1 1097.6,462.7 1098.0,463.1 1098.4,459.3 1098.9,459.8 1099.3,469.1 1099.7,461.8 1100.1,459.3 1100.5,456.4 1101.0,457.9 1101.4,460.9 1101.8,467.7 1102.2,466.1 1102.7,458.1 1103.1,466.1 1103.5,457.9 1103.9,456.8 1104.3,468.4 1104.8,461.2 1105.2,464.0 1105.6,453.7 1106.0,459.6 1106.5,466.2 1106.9,461.8 1107.3,468.3 1107.7,464.6 1108.2,462.8 1108.6,463.0 1109.0,462.2 1109.4,468.1 1109.8,472.6 1110.3,465.2 1110.7,467.7 1111.1,466.6 1111.5,452.6 1112.0,457.2 1112.4,463.6 1112.8,469.5 1113.2,468.7 1113.6,460.4 1114.1,456.8 1114.5,463.3 1114.9,461.0 1115.3,460.3 1115.8,456.2 1116.2,470.4 1116.6,460.3 1117.0,459.0 1117.4,456.2 1117.9,458.8 1118.3,466.1 1118.7,463.5 1119.1,468.0 1119.6,459.6 1120.0,459.7 1120.4,458.1 1120.8,465.4 1121.3,466.2 1121.7,453.3 1122.1,459.9 1122.5,452.3 1122.9,458.7 1123.4,468.1 1123.8,457.1 1124.2,455.1 1124.6,463.4 1125.1,470.7 1125.5,458.2 1125.9,462.2 1126.3,460.3 1126.7,474.9 1127.2,459.7 1127.6,475.5 1128.0,466.4 1128.4,458.0 1128.9,471.4 1129.3,471.7 1129.7,465.0 1130.1,454.9 1130.6,455.2 1131.0,466.2 1131.4,458.5 1131.8,460.7 1132.2,462.4 1132.7,462.1 1133.1,467.6 1133.5,460.3 1133.9,459.1 1134.4,451.3 1134.8,460.2 1135.2,476.8 1135.6,470.8 1136.0,463.5 1136.5,464.9 1136.9,474.4 1137.3,466.2 1137.7,467.4 1138.2,466.0 1138.6,466.5 1139.0,461.5 1139.4,459.0 1139.9,462.9 1140.3,471.7 1140.7,470.6 1141.1,469.8 1141.5,466.9 1142.0,468.8 1142.4,468.5 1142.8,471.4 1143.2,462.4 1143.7,463.0 1144.1,462.6 1144.5,467.7 1144.9,465.2 1145.3,472.0 1145.8,472.6 1146.2,470.4 1146.6,465.0 1147.0,468.6 1147.5,473.6 1147.9,467.6 1148.3,466.1 1148.7,467.5 1149.1,471.6 1149.6,468.2 1150.0,470.6 1150.4,470.2 1150.8,469.2 1151.3,465.2 1151.7,460.0 1152.1,461.4 1152.5,466.0 1153.0,471.1 1153.4,470.8 1153.8,470.6 1154.2,463.8 1154.6,483.0 1155.1,468.3 1155.5,479.4 1155.9,469.7 1156.3,463.3 1156.8,474.3 1157.2,481.1 1157.6,463.7 1158.0,462.7 1158.4,467.7 1158.9,464.1 1159.3,474.2 1159.7,464.6 1160.1,462.1 1160.6,467.3 1161.0,469.1 1161.4,464.2 1161.8,465.0 1162.3,474.2 1162.7,464.0 1163.1,467.0 1163.5,469.9 1163.9,464.4 1164.4,466.2 1164.8,467.1 1165.2,473.3 1165.6,466.8 1166.1,476.3 1166.5,471.5 1166.9,479.2 1167.3,479.3 1167.7,468.8 1168.2,471.4 1168.6,470.6 1169.0,468.2 1169.4,469.4 1169.9,475.5 1170.3,470.8 1170.7,471.5 1171.1,473.8 1171.6,471.9 1172.0,473.1 1172.4,474.5 1172.8,473.0 1173.2,470.3 1173.7,461.4 1174.1,475.5 1174.5,469.1 1174.9,478.8 1175.4,464.0 1175.8,473.5 1176.2,471.3 1176.6,465.9 1177.0,467.5 1177.5,479.7 1177.9,469.8 1178.3,473.8 1178.7,469.8 1179.2,472.3 1179.6,469.6 1180.0,471.9 1180.4,474.2 1180.8,468.0 1181.3,481.4 1181.7,476.2 1182.1,478.9 1182.5,475.2 1183.0,476.7 1183.4,475.5 1183.8,477.4 1184.2,477.5 1184.7,483.4 1185.1,475.7 1185.5,474.2 1185.9,478.8 1186.3,479.2 1186.8,479.3 1187.2,468.1 1187.6,475.5 1188.0,474.7 1188.5,478.2 1188.9,479.3 1189.3,481.2 1189.7,469.5 1190.1,485.4 1190.6,475.7 1191.0,477.3 1191.4,478.5 1191.8,485.0 1192.3,483.4 1192.7,472.6 1193.1,480.8 1193.5,473.1 1194.0,474.1 1194.4,474.6 1194.8,473.7 1195.2,483.4 1195.6,479.8 1196.1,474.2 1196.5,483.7 1196.9,469.4 1197.3,480.2 1197.8,477.8 1198.2,482.5 1198.6,475.8 1199.0,481.1 1199.4,478.8 1199.9,483.1 1200.3,471.8 1200.7,485.6 1201.1,475.4 1201.6,476.5 1202.0,475.5 1202.4,482.7 1202.8,472.7 1203.3,473.1 1203.7,477.1 1204.1,476.4 1204.5,478.8 1204.9,475.1 1205.4,482.4 1205.8,475.9 1206.2,476.8 1206.6,485.9 1207.1,492.1 1207.5,480.1 1207.9,480.6 1208.3,474.1 1208.7,480.1 1209.2,483.1 1209.6,487.6 1210.0,481.7 1210.4,484.4 1210.9,487.2 1211.3,482.8 1211.7,477.3 1212.1,482.3 1212.5,488.2 1213.0,481.7 1213.4,488.9 1213.8,491.5 1214.2,481.6 1214.7,487.0 1215.1,479.0 1215.5,483.1 1215.9,488.7 1216.4,483.9 1216.8,478.7 1217.2,486.1 1217.6,490.4 1218.0,488.5 1218.5,489.2 1218.9,491.1 1219.3,491.6 1219.7,483.3 1220.2,480.0 1220.6,487.2 1221.0,481.6 1221.4,481.0 1221.8,477.3 1222.3,486.4 1222.7,487.2 1223.1,483.5 1223.5,485.1 1224.0,484.1 1224.4,479.3 1224.8,487.7 1225.2,484.5 1225.7,490.4 1226.1,486.4 1226.5,488.9 1226.9,489.4 1227.3,486.7 1227.8,487.9 1228.2,483.9 1228.6,481.8 1229.0,493.0 1229.5,480.9 1229.9,496.6 1230.3,484.6 1230.7,482.4 1231.1,489.0 1231.6,487.0 1232.0,489.7 1232.4,481.6 1232.8,501.5 1233.3,490.8 1233.7,495.5 1234.1,485.3 1234.5,480.0 1235.0,480.6 1235.4,483.4 1235.8,485.6 1236.2,490.8 1236.6,481.3 1237.1,484.5 1237.5,491.9 1237.9,494.2 1238.3,491.3 1238.8,483.2 1239.2,482.6 1239.6,481.1 1240.0,493.0 1240.4,491.1 1240.9,482.8 1241.3,488.7 1241.7,486.2 1242.1,496.5 1242.6,491.9 1243.0,490.2 1243.4,491.9 1243.8,492.2 1244.2,498.2 1244.7,482.2 1245.1,489.5 1245.5,497.3 1245.9,484.9 1246.4,489.8 1246.8,486.7 1247.2,491.1 1247.6,494.0 1248.1,493.8 1248.5,488.4 1248.9,486.3 1249.3,487.7 1249.7,487.0 1250.2,484.2 1250.6,488.7 1251.0,485.2 1251.4,484.7 1251.9,488.6 1252.3,490.4 1252.7,492.2 1253.1,495.9 1253.5,497.7 1254.0,483.7 1254.4,490.2 1254.8,492.8 1255.2,482.5 1255.7,485.5 1256.1,490.0 1256.5,485.4 1256.9,491.3 1257.4,488.7 1257.8,481.7 1258.2,485.5 1258.6,492.0 1259.0,487.4 1259.5,485.1 1259.9,491.6 1260.3,493.1 1260.7,482.0 1261.2,492.7 1261.6,497.8 1262.0,490.8 1262.4,480.4 1262.8,488.6 1263.3,487.1 1263.7,502.4 1264.1,494.6 1264.5,486.1 1265.0,494.1 1265.4,485.8 1265.8,490.0 1266.2,490.5 1266.7,484.4 1267.1,495.1 1267.5,495.1 1267.9,492.4 1268.3,492.0 1268.8,501.4 1269.2,487.3 1269.6,492.3 1270.0,494.3 1270.5,490.6 1270.9,495.7 1271.3,488.0 1271.7,493.7 1272.1,490.7 1272.6,498.7 1273.0,495.8 1273.4,492.8 1273.8,499.4 1274.3,498.2 1274.7,495.4 1275.1,489.9 1275.5,491.8 1275.9,491.2 1276.4,494.3 1276.8,491.6 1277.2,488.6 1277.6,495.5 1278.1,494.4 1278.5,493.8 1278.9,506.6 1279.3,497.5 1279.8,495.2 1280.2,493.7 1280.6,499.1 1281.0,493.0 1281.4,501.0 1281.9,498.9 1282.3,490.0 1282.7,505.0 1283.1,499.0 1283.6,499.5 1284.0,499.4 1284.4,501.7 1284.8,496.1 1285.2,504.7 1285.7,506.1 1286.1,497.4 1286.5,505.7 1286.9,498.3 1287.4,500.1 1287.8,503.7 1288.2,502.2 1288.6,501.2 1289.1,498.6 1289.5,504.1 1289.9,502.2 1290.3,508.3 1290.7,502.8 1291.2,510.9 1291.6,502.0 1292.0,504.1 1292.4,491.8 1292.9,495.9 1293.3,503.0 1293.7,497.8 1294.1,501.2 1294.5,508.3 1295.0,514.7 1295.4,497.6 1295.8,501.3 1296.2,512.9 1296.7,500.4 1297.1,499.1 1297.5,507.1 1297.9,500.0 1298.4,512.4 1298.8,505.2 1299.2,504.1 1299.6,500.6 1300.0,502.6 1300.5,503.6 1300.9,502.1 1301.3,508.2 1301.7,497.9 1302.2,506.9 1302.6,501.5 1303.0,505.5 1303.4,506.9 1303.8,502.9 1304.3,503.7 1304.7,499.5 1305.1,500.9 1305.5,509.1 1306.0,504.0 1306.4,506.1 1306.8,510.6 1307.2,512.2 1307.6,505.7 1308.1,509.7 1308.5,514.0 1308.9,507.8 1309.3,506.4 1309.8,507.1 1310.2,513.6 1310.6,510.7 1311.0,501.3 1311.5,511.9 1311.9,509.8 1312.3,497.1 1312.7,506.8 1313.1,511.1 1313.6,518.3 1314.0,507.4 1314.4,515.8 1314.8,509.3 1315.3,513.6 1315.7,517.7 1316.1,501.6 1316.5,510.3 1316.9,505.5 1317.4,506.5 1317.8,513.8 1318.2,510.0 1318.6,512.3 1319.1,506.0 1319.5,508.8 1319.9,512.8 1320.3,503.2 1320.8,508.9 1321.2,509.4 1321.6,515.6 1322.0,510.0 1322.4,519.3 1322.9,510.1 1323.3,517.1 1323.7,511.9 1324.1,514.3 1324.6,512.1 1325.0,511.7 1325.4,513.9 1325.8,514.1 1326.2,521.3 1326.7,523.5 1327.1,508.3 1327.5,511.9 1327.9,522.1 1328.4,505.8 1328.8,518.8 1329.2,513.1 1329.6,513.7 1330.1,515.5 1330.5,513.3 1330.9,523.1 1331.3,516.8 1331.7,518.1 1332.2,516.7 1332.6,518.6 1333.0,520.6 1333.4,521.3 1333.9,513.6 1334.3,522.2 1334.7,516.5 1335.1,516.8 1335.5,519.2 1336.0,516.9 1336.4,516.5 1336.8,522.0 1337.2,517.9 1337.7,510.5 1338.1,525.2 1338.5,521.7 1338.9,524.2 1339.3,510.9 1339.8,527.7 1340.2,521.0 1340.6,516.7 1341.0,525.7 1341.5,522.3 1341.9,525.3 1342.3,528.6 1342.7,522.6 1343.2,520.1 1343.6,524.6 1344.0,522.1 1344.4,519.7 1344.8,517.4 1345.3,529.4 1345.7,520.6 1346.1,526.8 1346.5,533.1 1347.0,527.9 1347.4,521.2 1347.8,523.0 1348.2,530.0 1348.6,516.9 1349.1,522.9 1349.5,525.4 1349.9,527.8 1350.3,523.3 1350.8,527.3 1351.2,520.0 1351.6,524.2 1352.0,522.8 1352.5,527.4 1352.9,533.3 1353.3,523.6 1353.7,531.2 1354.1,526.9 1354.6,526.6 1355.0,530.4 1355.4,522.4 1355.8,533.8 1356.3,519.7 1356.7,530.0 1357.1,522.5 1357.5,521.1 1357.9,531.7 1358.4,531.2 1358.8,523.2 1359.2,527.0 1359.6,527.6 1360.1,537.1 1360.5,536.3 1360.9,525.9 1361.3,521.7 1361.8,532.3 1362.2,533.2 1362.6,528.2 1363.0,527.2 1363.4,526.9 1363.9,532.0 1364.3,539.5 1364.7,523.2 1365.1,533.0 1365.6,524.7 1366.0,540.7 1366.4,529.5 1366.8,534.0 1367.2,537.2 1367.7,527.5 1368.1,526.2 1368.5,535.6 1368.9,529.9 1369.4,538.6 1369.8,536.7 1370.2,535.2 1370.6,536.0 1371.0,531.6 1371.5,540.8 1371.9,530.6 1372.3,531.0 1372.7,537.0 1373.2,542.0 1373.6,548.2 1374.0,537.3 1374.4,540.8 1374.9,537.2 1375.3,543.1 1375.7,538.3 1376.1,539.0 1376.5,538.9 1377.0,537.9 1377.4,538.2 1377.8,535.3 1378.2,544.1 1378.7,537.2 1379.1,540.3 1379.5,543.4 1379.9,546.6 1380.3,535.1 1380.8,541.4 1381.2,545.4 1381.6,542.9 1382.0,543.6 1382.5,546.6 1382.9,551.1 1383.3,544.1 1383.7,546.0 1384.2,547.0 1384.6,541.2 1385.0,552.7 1385.4,551.4 1385.8,546.4 1386.3,543.5 1386.7,545.0 1387.1,544.8 1387.5,559.3 1388.0,546.7 1388.4,547.5 1388.8,546.6 1389.2,553.6 1389.6,548.2 1390.1,546.2 1390.5,543.7 1390.9,550.6 1391.3,558.6 1391.8,552.3 1392.2,549.8 1392.6,550.8 1393.0,544.4 1393.5,554.9 1393.9,559.2 1394.3,557.8 1394.7,551.9 1395.1,559.3 1395.6,560.8 1396.0,560.1 1396.4,550.6 1396.8,555.7 1397.3,558.8 1397.7,553.4 1398.1,554.6 1398.5,563.0 1398.9,554.6 1399.4,557.8 1399.8,569.3 1400.2,565.5 1400.6,558.9 1401.1,558.2 1401.5,562.3 1401.9,566.1 1402.3,560.5 1402.7,570.9 1403.2,559.8 1403.6,563.7 1404.0,563.5 1404.4,566.9 1404.9,560.2 1405.3,575.9 1405.7,569.4 1406.1,562.9 1406.6,569.5 1407.0,559.6 1407.4,565.1 1407.8,571.3 1408.2,562.8 1408.7,569.2 1409.1,566.4 1409.5,572.8 1409.9,573.2 1410.4,567.5 1410.8,571.0 1411.2,575.7 1411.6,576.8 1412.0,570.0 1412.5,565.3 1412.9,578.4 1413.3,571.6 1413.7,589.5 1414.2,582.7 1414.6,573.3 1415.0,569.5 1415.4,577.4 1415.9,575.6 1416.3,577.6 1416.7,574.5 1417.1,585.1 1417.5,577.4 1418.0,583.1 1418.4,583.1 1418.8,582.0 1419.2,583.4 1419.7,586.6 1420.1,584.6 1420.5,588.4 1420.9,577.1 1421.3,581.4 1421.8,587.2 1422.2,578.0 1422.6,580.0 1423.0,584.4 1423.5,589.8 1423.9,586.5 1424.3,585.6 1424.7,582.3 1425.2,590.4 1425.6,593.0 1426.0,580.1 1426.4,585.2 1426.8,591.0 1427.3,597.5 1427.7,592.1 1428.1,590.3 1428.5,592.9 1429.0,593.7 1429.4,598.1 1429.8,594.8 1430.2,603.0 1430.6,603.5 1431.1,605.1 1431.5,607.2 1431.9,599.3 1432.3,614.1 1432.8,609.0 1433.2,614.8 1433.6,617.4 1434.0,614.8 1434.4,622.0 1434.9,619.2 1435.3,613.9 1435.7,622.7 1436.1,622.6 1436.6,627.8 1437.0,625.3 1437.4,632.4 1437.8,628.9 1438.3,631.2 1438.7,626.0 1439.1,634.1 1439.5,636.4 1439.9,638.5 1440.4,641.9 1440.8,637.8 1441.2,637.5 1441.6,644.5 1442.1,643.1 1442.5,648.0 1442.9,647.7 1443.3,649.9 1443.7,658.3 1444.2,660.9 1444.6,660.8 1445.0,673.6 1445.4,672.6 1445.9,677.8 1446.3,683.5 1446.7,685.2 1447.1,689.9 1447.6,694.6 1448.0,708.2 1448.4,701.8 1448.8,718.9 1449.2,724.8 1449.7,737.8 1450.1,749.2 1450.5,757.5 1450.9,761.4 1451.4,776.8 1451.8,793.2 1452.2,811.2 1452.6,834.2 1453.0,859.0 1453.5,886.9 1453.8,950.2 1453.6,987.5 1453.5,1012.5"/>
<polyline stroke="#ffa500" points="193.5,854.6 193.9,854.6 194.3,854.6 194.8,854.6 195.2,854.6 195.6,854.6 196.0,854.6 196.5,854.6 196.9,855.3 197.3,856.7 197.7,859.6 198.1,863.7 198.6,867.1 199.0,869.4 199.4,871.2 199.8,872.4 200.3,872.0 200.7,873.7 201.1,872.8 201.5,875.1 202.0,871.1 202.4,872.8 202.8,872.4 203.2,872.2 203.6,876.2 204.1,871.1 204.5,867.5 204.9,878.0 205.3,878.3 205.8,877.6 206.2,870.9 206.6,873.0 207.0,870.3 207.4,871.3 207.9,872.7 208.3,872.5 208.7,873.8 209.1,870.9 209.6,876.6 210.0,874.5 210.4,872.6 210.8,868.2 211.3,875.5 211.7,876.4 212.1,874.9 212.5,870.6 212.9,874.0 213.4,869.5 213.8,878.7 214.2,870.1 214.6,870.4 215.1,877.4 215.5,872.9 215.9,869.9 216.3,873.1 216.7,870.5 217.2,866.5 217.6,872.5 218.0,874.1 218.4,875.5 218.9,871.5 219.3,873.9 219.7,873.8 220.1,873.6 220.6,871.5 221.0,876.4 221.4,877.7 221.8,880.3 222.2,869.9 222.7,873.1 223.1,869.0 223.5,873.4 223.9,875.4 224.4,872.0 224.8,873.5 225.2,876.9 225.6,875.9 226.0,868.3 226.5,872.3 226.9,872.1 227.3,874.1 227.7,875.3 228.2,870.8 228.6,873.6 229.0,875.5 229.4,873.7 229.8,875.9 230.3,872.8 230.7,870.1 231.1,875.7 231.5,869.3 232.0,875.2 232.4,872.9 232.8,875.7 233.2,874.0 233.7,873.2 234.1,874.6 234.5,875.3 234.9,875.3 235.3,875.7 235.8,877.8 236.2,874.1 236.6,872.2 237.0,870.7 237.5,871.5 237.9,866.3 238.3,872.4 238.7,874.6 239.1,868.0 239.6,876.3 240.0,870.6 240.4,876.1 240.8,872.3 241.3,879.0 241.7,870.8 242.1,873.8 242.5,876.1 243.0,868.5 243.4,871.1 243.8,873.2 244.2,875.5 244.6,873.5 245.1,873.8 245.5,871.3 245.9,871.1 246.3,875.2 246.8,874.9 247.2,874.9 247.6,877.2 248.0,875.0 248.4,873.6 248.9,871.4 249.3,869.6 249.7,875.6 250.1,871.8 250.6,874.6 251.0,867.4 251.4,873.5 251.8,871.9 252.3,876.0 252.7,875.6 253.1,872.8 253.5,874.4 253.9,872.3 254.4,877.8 254.8,871.4 255.2,875.9 255.6,868.4 256.1,874.2 256.5,870.2 256.9,877.3 257.3,872.1 257.7,875.9 258.2,874.7 258.6,873.3 259.0,874.2 259.4,872.6 259.9,871.2 260.3,871.5 260.7,873.6 261.1,877.2 261.5,875.6 262.0,873.9 262.4,879.4 262.8,871.2 263.2,874.0 263.7,874.1 264.1,870.6 264.5,871.4 264.9,872.7 265.4,876.2 265.8,872.5 266.2,872.4 266.6,875.9 267.0,870.4 267.5,871.9 267.9,879.0 268.3,873.0 268.7,877.0 269.2,870.1 269.6,871.0 270.0,876.5 270.4,875.9 270.8,873.1 271.3,874.0 271.7,869.0 272.1,871.2 272.5,874.2 273.0,871.7 273.4,879.1 273.8,872.5 274.2,870.9 274.7,873.9 275.1,875.4 275.5,871.7 275.9,867.8 276.3,872.8 276.8,876.5 277.2,869.2 277.6,878.7 278.0,871.9 278.5,875.0 278.9,870.7 279.3,875.8 279.7,869.6 280.1,872.5 280.6,878.3 281.0,879.0 281.4,874.3 281.8,869.7 282.3,873.0 282.7,873.2 283.1,874.0 283.5,871.2 284.0,872.3 284.4,872.6 284.8,876.2 285.2,870.0 285.6,869.5 286.1,877.1 286.5,866.8 286.9,871.3 287.3,874.8 287.8,878.8 288.2,871.5 288.6,871.8 289.0,875.1 289.4,878.5 289.9,870.2 290.3,875.0 290.7,874.7 291.1,865.2 291.6,867.3 292.0,870.6 292.4,874.7 292.8,871.5 293.2,879.9 293.7,873.1 294.1,875.5 294.5,877.0 294.9,877.9 295.4,871.9 295.8,873.1 296.2,872.9 296.6,871.0 297.1,875.8 297.5,876.9 297.9,878.4 298.3,874.3 298.7,871.2 299.2,873.8 299.6,871.5 300.0,876.7 300.4,874.7 300.9,875.6 301.3,876.9 301.7,868.1 302.1,870.9 302.5,875.6 303.0,875.6 303.4,873.5 303.8,877.5 304.2,872.1 304.7,877.1 305.1,874.4 305.5,876.3 305.9,874.8 306.4,877.2 306.8,877.9 307.2,876.1 307.6,875.3 308.0,874.2 308.5,873.2 308.9,869.0 309.3,871.1 309.7,874.1 310.2,871.3 310.6,875.4 311.0,869.3 311.4,871.8 311.8,877.3 312.3,871.2 312.7,871.1 313.1,881.1 313.5,875.5 314.0,874.7 314.4,878.9 314.8,876.4 315.2,876.1 315.7,871.9 316.1,872.5 316.5,865.9 316.9,874.5 317.3,870.1 317.8,873.2 318.2,872.6 318.6,876.7 319.0,878.9 319.5,875.6 319.9,871.2 320.3,868.9 320.7,871.7 321.1,872.0 321.6,875.8 322.0,869.0 322.4,869.6 322.8,874.9 323.3,873.5 323.7,876.3 324.1,869.2 324.5,872.3 324.9,873.7 325.4,872.3 325.8,872.2 326.2,874.6 326.6,877.0 327.1,877.1 327.5,878.4 327.9,872.1 328.3,867.1 328.8,878.3 329.2,873.0 329.6,872.2 330.0,876.2 330.4,872.8 330.9,876.6 331.3,870.0 331.7,875.1 332.1,873.1 332.6,871.5 333.0,874.7 333.4,878.5 333.8,874.9 334.2,871.3 334.7,873.7 335.1,872.8 335.5,876.5 335.9,873.0 336.4,871.4 336.8,873.3 337.2,868.0 337.6,874.0 338.1,876.4 338.5,878.1 338.9,870.2 339.3,873.6 339.7,870.6 340.2,872.1 340.6,868.8 341.0,869.8 341.4,874.5 341.9,872.7 342.3,870.3 342.7,877.0 343.1,869.3 343.5,870.0 344.0,870.6 344.4,874.0 344.8,872.6 345.2,876.6 345.7,873.3 346.1,875.1 346.5,873.2 346.9,874.9 347.4,872.6 347.8,870.1 348.2,877.2 348.6,870.8 349.0,879.1 349.5,879.6 349.9,873.8 350.3,873.4 350.7,872.2 351.2,878.2 351.6,873.6 352.0,873.1 352.4,869.9 352.8,873.8 353.3,872.0 353.7,876.3 354.1,874.0 354.5,874.7 355.0,871.5 355.4,876.3 355.8,875.9 356.2,871.8 356.6,868.4 357.1,872.4 357.5,872.6 357.9,874.5 358.3,870.4 358.8,871.9 359.2,868.5 359.6,872.5 360.0,876.2 360.5,875.1 360.9,876.3 361.3,877.1 361.7,869.9 362.1,871.2 362.6,877.0 363.0,868.4 363.4,872.8 363.8,876.2 364.3,872.4 364.7,873.7 365.1,875.7 365.5,879.0 365.9,873.4 366.4,872.7 366.8,880.9 367.2,871.9 367.6,871.7 368.1,874.8 368.5,873.2 368.9,874.3 369.3,875.9 369.8,874.5 370.2,869.7 370.6,877.7 371.0,872.8 371.4,873.0 371.9,875.5 372.3,874.8 372.7,877.5 373.1,876.0 373.6,873.5 374.0,872.6 374.4,876.1 374.8,864.8 375.2,875.2 375.7,873.2 376.1,874.2 376.5,874.7 376.9,869.8 377.4,874.9 377.8,869.7 378.2,870.3 378.6,876.5 379.1,870.6 379.5,875.4 379.9,865.7 380.3,874.6 380.7,876.2 381.2,879.0 381.6,877.2 382.0,875.2 382.4,876.4 382.9,877.1 383.3,875.5 383.7,874.1 384.1,869.4 384.5,878.4 385.0,875.1 385.4,876.3 385.8,877.9 386.2,877.2 386.7,876.1 387.1,871.5 387.5,874.1 387.9,875.1 388.3,871.8 388.8,872.8 389.2,874.2 389.6,872.5 390.0,875.9 390.5,871.8 390.9,872.2 391.3,874.7 391.7,877.1 392.2,869.2 392.6,873.3 393.0,864.9 393.4,875.4 393.8,871.1 394.3,874.8 394.7,872.9 395.1,871.2 395.5,875.9 396.0,873.9 396.4,873.1 396.8,873.3 397.2,871.9 397.6,870.7 398.1,871.2 398.5,872.8 398.9,874.6 399.3,876.8 399.8,875.7 400.2,875.1 400.6,871.6 401.0,874.6 401.5,877.1 401.9,871.8 402.3,875.9 402.7,875.8 403.1,874.3 403.6,872.3 404.0,880.5 404.4,876.8 404.8,873.1 405.3,874.7 405.7,876.1 406.1,875.2 406.5,869.7 406.9,874.9 407.4,871.6 407.8,871.4 408.2,874.9 408.6,872.4 409.1,874.9 409.5,875.4 409.9,876.8 410.3,871.1 410.8,874.8 411.2,875.2 411.6,876.9 412.0,868.5 412.4,871.5 412.9,874.0 413.3,875.6 413.7,878.0 414.1,872.8 414.6,872.8 415.0,877.7 415.4,870.3 415.8,871.4 416.2,876.4 416.7,875.2 417.1,874.9 417.5,873.2 417.9,874.1 418.4,878.3 418.8,869.4 419.2,872.8 419.6,870.1 420.0,870.1 420.5,874.3 420.9,872.7 421.3,871.6 421.7,871.5 422.2,874.1 422.6,875.4 423.0,873.6 423.4,876.0 423.9,875.3 424.3,879.5 424.7,873.4 425.1,876.6 425.5,875.3 426.0,873.8 426.4,872.8 426.8,868.3 427.2,873.1 427.7,877.7 428.1,873.3 428.5,875.4 428.9,872.5 429.3,875.6 429.8,875.7 430.2,875.2 430.6,875.5 431.0,878.9 431.5,875.6 431.9,873.7 432.3,870.3 432.7,874.5 433.2,874.8 433.6,872.0 434.0,872.2 434.4,869.1 434.8,872.0 435.3,873.8 435.7,869.9 436.1,869.3 436.5,875.1 437.0,873.3 437.4,878.5 437.8,874.8 438.2,876.2 438.6,874.3 439.1,875.1 439.5,874.2 439.9,874.0 440.3,872.3 440.8,873.1 441.2,875.3 441.6,877.4 442.0,870.2 442.5,869.7 442.9,875.0 443.3,872.1 443.7,878.1 444.1,878.2 444.6,874.5 445.0,869.5 445.4,876.7 445.8,876.1 446.3,869.2 446.7,879.2 447.1,871.9 447.5,872.4 447.9,874.3 448.4,873.2 448.8,866.3 449.2,877.0 449.6,874.7 450.1,874.4 450.5,875.7 450.9,877.6 451.3,869.2 451.7,873.1 452.2,878.8 452.6,875.8 453.0,872.6 453.4,872.6 453.9,877.9 454.3,874.0 454.7,873.0 455.1,872.7 455.6,872.7 456.0,879.0 456.4,868.5 456.8,873.2 457.2,868.6 457.7,865.6 458.1,874.2 458.5,877.3 458.9,871.3 459.4,874.3 459.8,875.1 460.2,876.7 460.6,869.0 461.0,875.1 461.5,877.8 461.9,875.1 462.3,877.1 462.7,873.4 463.2,875.0 463.6,876.8 464.0,872.1 464.4,875.7 464.9,871.7 465.3,870.2 465.7,874.9 466.1,875.7 466.5,873.3 467.0,871.3 467.4,873.8 467.8,873.4 468.2,873.9 468.7,872.9 469.1,872.0 469.5,875.8 469.9,875.2 470.3,873.7 470.8,875.7 471.2,873.5 471.6,872.3 472.0,873.9 472.5,875.6 472.9,876.1 473.3,868.8 473.7,871.3 474.2,877.0 474.6,876.3 475.0,868.5 475.4,869.5 475.8,873.5 476.3,870.6 476.7,878.1 477.1,873.9 477.5,871.7 478.0,879.2 478.4,876.1 478.8,871.6 479.2,870.6 479.6,875.6 480.1,873.0 480.5,869.3 480.9,875.0 481.3,877.7 481.8,874.1 482.2,875.0 482.6,870.2 483.0,873.4 483.4,876.2 483.9,867.0 484.3,875.3 484.7,872.5 485.1,872.0 485.6,871.7 486.0,873.4 486.4,872.2 486.8,874.1 487.3,878.0 487.7,874.5 488.1,874.5 488.5,874.4 488.9,873.5 489.4,875.7 489.8,870.1 490.2,869.4 490.6,880.2 491.1,873.9 491.5,875.9 491.9,881.4 492.3,872.8 492.7,875.7 493.2,875.0 493.6,875.8 494.0,870.8 494.4,870.4 494.9,873.1 495.3,872.0 495.7,874.3 496.1,873.5 496.6,876.1 497.0,873.8 497.4,876.0 497.8,872.9 498.2,871.6 498.7,873.1 499.1,870.6 499.5,866.3 499.9,880.0 500.4,873.9 500.8,875.6 501.2,875.3 501.6,877.8 502.0,873.8 502.5,874.7 502.9,875.8 503.3,874.7 503.7,875.7 504.2,880.7 504.6,870.9 505.0,874.8 505.4,876.7 505.9,873.1 506.3,875.9 506.7,880.2 507.1,871.4 507.5,878.8 508.0,874.6 508.4,873.6 508.8,870.1 509.2,870.6 509.7,873.5 510.1,876.2 510.5,875.2 510.9,870.9 511.3,868.9 511.8,872.4 512.2,875.8 512.6,871.1 513.0,875.1 513.5,875.2 513.9,874.8 514.3,872.3 514.7,873.2 515.1,871.2 515.6,870.3 516.0,872.6 516.4,880.7 516.8,878.9 517.3,873.6 517.7,874.2 518.1,867.9 518.5,874.1 519.0,874.5 519.4,871.3 519.8,871.0 520.2,874.7 520.6,872.7 521.1,877.3 521.5,876.7 521.9,870.5 522.3,878.1 522.8,871.4 523.2,872.1 523.6,871.9 524.0,871.4 524.4,872.4 524.9,880.2 525.3,876.9 525.7,875.8 526.1,871.4 526.6,877.3 527.0,876.1 527.4,875.1 527.8,870.3 528.3,878.2 528.7,877.9 529.1,872.3 529.5,880.1 529.9,873.1 530.4,875.4 530.8,878.6 531.2,875.3 531.6,876.9 532.1,873.6 532.5,873.1 532.9,869.8 533.3,874.1 533.7,873.8 534.2,875.7 534.6,874.2 535.0,871.1 535.4,879.6 535.9,872.2 536.3,875.6 536.7,873.9 537.1,873.2 537.6,871.7 538.0,873.4 538.4,875.2 538.8,873.2 539.2,874.1 539.7,874.7 540.1,873.5 540.5,871.6 540.9,873.7 541.4,873.7 541.8,877.8 542.2,874.5 542.6,879.4 543.0,872.1 543.5,876.8 543.9,870.4 544.3,865.6 544.7,875.3 545.2,870.3 545.6,873.0 546.0,875.7 546.4,876.6 546.8,872.5 547.3,870.2 547.7,873.1 548.1,878.5 548.5,877.1 549.0,874.8 549.4,870.3 549.8,873.4 550.2,873.2 550.7,870.7 551.1,874.8 551.5,874.4 551.9,874.7 552.3,879.3 552.8,872.8 553.2,873.0 553.6,871.4 554.0,877.6 554.5,876.5 554.9,871.5 555.3,873.3 555.7,870.3 556.1,876.7 556.6,873.6 557.0,876.1 557.4,873.3 557.8,875.6 558.3,872.7 558.7,871.1 559.1,872.3 559.5,879.4 560.0,871.5 560.4,872.9 560.8,877.2 561.2,876.7 561.6,874.2 562.1,872.6 562.5,875.5 562.9,878.9 563.3,873.4 563.8,873.7 564.2,867.3 564.6,877.9 565.0,867.0 565.4,869.3 565.9,873.4 566.3,869.5 566.7,874.0 567.1,871.4 567.6,876.3 568.0,874.0 568.4,877.1 568.8,878.7 569.3,875.0 569.7,876.1 570.1,872.6 570.5,870.6 570.9,874.7 571.4,874.1 571.8,873.7 572.2,879.1 572.6,873.5 573.1,874.2 573.5,874.4 573.9,877.4 574.3,879.9 574.7,875.0 575.2,873.4 575.6,870.5 576.0,871.1 576.4,870.1 576.9,873.2 577.3,871.0 577.7,874.9 578.1,872.5 578.5,871.6 579.0,866.6 579.4,873.6 579.8,877.9 580.2,870.4 580.7,876.6 581.1,874.5 581.5,875.1 581.9,876.9 582.4,870.5 582.8,872.6 583.2,876.1 583.6,874.1 584.0,875.6 584.5,872.6 584.9,875.4 585.3,876.5 585.7,876.2 586.2,875.6 586.6,873.5 587.0,877.0 587.4,874.6 587.8,873.1 588.3,867.7 588.7,871.9 589.1,882.9 589.5,875.8 590.0,875.5 590.4,873.4 590.8,869.9 591.2,872.2 591.7,880.9 592.1,873.5 592.5,874.0 592.9,873.2 593.3,870.5 593.8,877.5 594.2,871.2 594.6,879.1 595.0,874.2 595.5,873.3 595.9,867.8 596.3,876.4 596.7,879.2 597.1,872.4 597.6,876.3 598.0,869.9 598.4,876.4 598.8,876.9 599.3,870.8 599.7,874.1 600.1,871.5 600.5,878.5 601.0,869.7 601.4,876.1 601.8,872.1 602.2,877.3 602.6,878.8 603.1,875.1 603.5,873.9 603.9,869.9 604.3,873.4 604.8,872.4 605.2,872.5 605.6,865.5 606.0,876.8 606.4,870.8 606.9,874.9 607.3,873.7 607.7,876.0 608.1,871.1 608.6,878.0 609.0,878.2 609.4,875.0 609.8,877.7 610.2,872.4 610.7,871.8 611.1,876.6 611.5,872.2 611.9,876.3 612.4,874.6 612.8,874.4 613.2,869.1 613.6,874.5 614.1,877.1 614.5,877.1 614.9,871.0 615.3,879.2 615.7,875.8 616.2,875.6 616.6,881.5 617.0,875.8 617.4,871.6 617.9,873.8 618.3,877.0 618.7,872.5 619.1,873.0 619.5,868.7 620.0,876.6 620.4,875.6 620.8,874.4 621.2,874.9 621.7,874.2 622.1,874.8 622.5,876.5 622.9,879.1 623.4,876.1 623.8,878.5 624.2,877.5 624.6,876.1 625.0,873.1 625.5,872.1 625.9,877.5 626.3,873.7 626.7,872.3 627.2,874.7 627.6,879.2 628.0,880.7 628.4,872.3 628.8,872.0 629.3,873.8 629.7,877.6 630.1,870.4 630.5,871.1 631.0,874.7 631.4,875.2 631.8,880.2 632.2,872.5 632.7,879.2 633.1,872.7 633.5,872.5 633.9,874.4 634.3,870.1 634.8,875.5 635.2,872.9 635.6,872.4 636.0,873.9 636.5,875.8 636.9,871.1 637.3,873.4 637.7,875.2 638.1,875.1 638.6,874.3 639.0,868.1 639.4,874.3 639.8,875.3 640.3,877.7 640.7,878.1 641.1,880.1 641.5,874.0 641.9,874.6 642.4,877.6 642.8,878.9 643.2,875.6 643.6,876.2 644.1,878.5 644.5,873.8 644.9,874.3 645.3,874.8 645.8,872.5 646.2,876.6 646.6,870.8 647.0,877.6 647.4,873.2 647.9,872.9 648.3,875.4 648.7,873.7 649.1,878.4 649.6,879.0 650.0,875.3 650.4,876.8 650.8,873.0 651.2,874.6 651.7,873.0 652.1,873.8 652.5,874.1 652.9,874.5 653.4,875.8 653.8,876.1 654.2,868.9 654.6,879.8 655.1,875.3 655.5,871.9 655.9,873.5 656.3,870.7 656.7,873.2 657.2,878.4 657.6,875.7 658.0,878.8 658.4,872.0 658.9,870.6 659.3,876.0 659.7,873.2 660.1,876.0 660.5,878.9 661.0,876.1 661.4,879.3 661.8,876.4 662.2,874.2 662.7,872.7 663.1,871.1 663.5,875.8 663.9,874.1 664.4,873.6 664.8,873.2 665.2,883.0 665.6,877.1 666.0,872.6 666.5,878.0 666.9,874.1 667.3,872.5 667.7,880.3 668.2,875.4 668.6,874.2 669.0,874.8 669.4,879.2 669.8,873.9 670.3,876.5 670.7,872.5 671.1,873.7 671.5,876.5 672.0,874.4 672.4,876.9 672.8,876.9 673.2,879.4 673.6,875.6 674.1,872.6 674.5,874.6 674.9,875.0 675.3,876.8 675.8,876.5 676.2,872.9 676.6,879.3 677.0,869.1 677.5,875.2 677.9,868.8 678.3,871.7 678.7,876.2 679.1,872.9 679.6,874.3 680.0,873.7 680.4,872.8 680.8,876.6 681.3,876.8 681.7,876.3 682.1,879.0 682.5,875.8 682.9,874.4 683.4,874.4 683.8,874.6 684.2,876.2 684.6,872.9 685.1,881.0 685.5,876.3 685.9,876.1 686.3,872.6 686.8,873.3 687.2,872.9 687.6,875.1 688.0,872.5 688.4,878.1 688.9,875.0 689.3,881.2 689.7,870.3 690.1,870.7 690.6,876.9 691.0,877.7 691.4,881.2 691.8,879.6 692.2,874.9 692.7,875.7 693.1,879.5 693.5,876.7 693.9,877.2 694.4,873.9 694.8,873.2 695.2,875.9 695.6,874.9 696.1,875.3 696.5,881.2 696.9,874.8 697.3,875.4 697.7,873.1 698.2,880.5 698.6,873.1 699.0,877.1 699.4,874.5 699.9,871.8 700.3,879.5 700.7,879.0 701.1,872.4 701.5,878.5 702.0,878.0 702.4,873.6 702.8,875.9 703.2,873.1 703.7,874.4 704.1,875.4 704.5,872.5 704.9,869.0 705.3,875.6 705.8,871.1 706.2,872.0 706.6,875.0 707.0,874.0 707.5,878.0 707.9,877.0 708.3,874.5 708.7,875.4 709.2,871.6 709.6,879.0 710.0,876.1 710.4,877.1 710.8,875.7 711.3,872.0 711.7,878.7 712.1,872.9 712.5,877.0 713.0,876.2 713.4,872.5 713.8,876.1 714.2,873.4 714.6,875.0 715.1,875.8 715.5,876.3 715.9,880.3 716.3,877.4 716.8,874.8 717.2,874.7 717.6,879.6 718.0,872.4 718.5,873.7 718.9,879.0 719.3,878.3 719.7,873.9 720.1,880.3 720.6,877.4 721.0,875.5 721.4,875.7 721.8,875.5 722.3,874.2 722.7,877.6 723.1,876.7 723.5,869.4 723.9,879.3 724.4,876.6 724.8,875.0 725.2,877.1 725.6,871.8 726.1,875.1 726.5,873.1 726.9,882.8 727.3,871.9 727.8,872.0 728.2,877.5 728.6,871.6 729.0,874.5 729.4,872.6 729.9,870.1 730.3,875.0 730.7,878.2 731.1,875.3 731.6,878.9 732.0,877.6 732.4,877.5 732.8,877.3 733.2,871.9 733.7,872.9 734.1,877.8 734.5,872.0 734.9,880.1 735.4,877.1 735.8,875.7 736.2,871.9 736.6,873.2 737.0,874.0 737.5,871.5 737.9,873.2 738.3,871.3 738.7,877.5 739.2,880.1 739.6,876.4 740.0,872.9 740.4,874.5 740.9,872.7 741.3,873.2 741.7,873.8 742.1,872.9 742.5,877.3 743.0,872.1 743.4,878.1 743.8,875.6 744.2,879.3 744.7,873.8 745.1,879.7 745.5,871.2 745.9,879.1 746.3,874.5 746.8,875.7 747.2,877.8 747.6,871.7 748.0,876.5 748.5,871.1 748.9,878.2 749.3,877.6 749.7,881.0 750.2,873.7 750.6,872.6 751.0,874.6 751.4,875.7 751.8,877.9 752.3,868.6 752.7,873.2 753.1,880.5 753.5,876.2 754.0,882.7 754.4,870.8 754.8,869.6 755.2,871.1 755.6,875.4 756.1,877.0 756.5,879.3 756.9,873.8 757.3,877.4 757.8,876.4 758.2,877.1 758.6,876.2 759.0,872.7 759.5,870.5 759.9,874.9 760.3,875.2 760.7,878.5 761.1,878.8 761.6,878.3 762.0,872.8 762.4,874.6 762.8,872.5 763.3,874.1 763.7,876.4 764.1,878.9 764.5,876.4 764.9,879.4 765.4,869.6 765.8,874.5 766.2,876.4 766.6,869.6 767.1,876.4 767.5,873.7 767.9,875.8 768.3,874.3 768.7,876.4 769.2,873.9 769.6,871.2 770.0,878.9 770.4,881.7 770.9,871.4 771.3,874.8 771.7,872.8 772.1,876.1 772.6,870.9 773.0,870.1 773.4,878.7 773.8,873.4 774.2,877.1 774.7,880.0 775.1,876.2 775.5,873.7 775.9,879.3 776.4,879.1 776.8,871.8 777.2,875.3 777.6,874.2 778.0,878.7 778.5,877.3 778.9,875.1 779.3,874.9 779.7,875.0 780.2,870.8 780.6,875.0 781.0,879.9 781.4,878.0 781.9,875.6 782.3,871.8 782.7,877.5 783.1,876.6 783.5,875.6 784.0,877.6 784.4,877.9 784.8,876.2 785.2,872.7 785.7,874.2 786.1,876.4 786.5,874.4 786.9,879.3 787.3,872.7 787.8,873.5 788.2,874.7 788.6,880.3 789.0,869.7 789.5,884.1 789.9,878.5 790.3,878.3 790.7,873.6 791.2,880.0 791.6,874.9 792.0,876.1 792.4,876.5 792.8,873.2 793.3,871.5 793.7,874.5 794.1,876.4 794.5,882.2 795.0,871.4 795.4,876.5 795.8,881.0 796.2,875.2 796.6,871.5 797.1,876.0 797.5,879.0 797.9,869.1 798.3,873.9 798.8,874.6 799.2,872.7 799.6,881.9 800.0,875.8 800.4,876.1 800.9,869.1 801.3,877.2 801.7,877.2 802.1,879.6 802.6,878.0 803.0,876.2 803.4,874.8 803.8,876.2 804.3,869.8 804.7,874.2 805.1,873.8 805.5,871.6 805.9,873.8 806.4,877.1 806.8,880.1 807.2,874.6 807.6,878.0 808.1,871.8 808.5,877.8 808.9,882.1 809.3,875.5 809.7,872.5 810.2,876.2 810.6,875.1 811.0,875.2 811.4,870.6 811.9,874.7 812.3,875.7 812.7,877.4 813.1,880.4 813.6,871.6 814.0,872.3 814.4,878.4 814.8,873.9 815.2,874.7 815.7,876.8 816.1,876.6 816.5,873.5 816.9,879.1 817.4,877.2 817.8,875.9 818.2,875.7 818.6,876.3 819.0,875.0 819.5,874.1 819.9,878.3 820.3,875.4 820.7,877.2 821.2,871.3 821.6,879.7 822.0,876.4 822.4,873.6 822.9,876.5 823.3,876.6 823.7,877.2 824.1,874.8 824.5,879.0 825.0,875.9 825.4,876.0 825.8,879.9 826.2,874.9 826.7,877.0 827.1,874.8 827.5,873.2 827.9,874.7 828.3,879.1 828.8,874.7 829.2,880.3 829.6,877.9 830.0,870.8 830.5,875.6 830.9,871.1 831.3,876.2 831.7,875.6 832.1,878.9 832.6,872.9 833.0,876.2 833.4,873.8 833.8,874.4 834.3,874.1 834.7,874.7 835.1,875.7 835.5,875.6 836.0,877.6 836.4,881.7 836.8,874.2 837.2,869.5 837.6,872.4 838.1,868.8 838.5,874.1 838.9,878.3 839.3,878.4 839.8,873.4 840.2,874.5 840.6,876.0 841.0,873.4 841.4,878.0 841.9,874.0 842.3,876.3 842.7,875.0 843.1,872.1 843.6,875.9 844.0,871.5 844.4,871.6 844.8,877.7 845.3,868.8 845.7,879.0 846.1,875.8 846.5,873.3 846.9,882.1 847.4,872.5 847.8,872.2 848.2,875.8 848.6,874.7 849.1,874.8 849.5,876.1 849.9,872.4 850.3,876.5 850.7,875.6 851.2,874.4 851.6,873.0 852.0,872.3 852.4,879.7 852.9,881.3 853.3,875.9 853.7,875.6 854.1,878.6 854.6,874.6 855.0,873.7 855.4,874.4 855.8,870.7 856.2,878.5 856.7,875.4 857.1,869.9 857.5,873.5 857.9,878.7 858.4,874.9 858.8,872.1 859.2,869.5 859.6,873.6 860.0,872.1 860.5,878.7 860.9,876.2 861.3,872.0 861.7,878.3 862.2,875.7 862.6,880.9 863.0,871.2 863.4,875.9 863.8,873.9 864.3,879.9 864.7,879.3 865.1,870.3 865.5,876.5 866.0,877.1 866.4,874.1 866.8,873.9 867.2,881.2 867.7,878.4 868.1,875.4 868.5,875.5 868.9,874.5 869.3,876.8 869.8,876.4 870.2,874.9 870.6,877.5 871.0,878.0 871.5,877.1 871.9,875.5 872.3,876.0 872.7,876.9 873.1,876.3 873.6,875.7 874.0,874.6 874.4,874.5 874.8,879.3 875.3,872.8 875.7,880.2 876.1,874.0 876.5,877.6 877.0,873.9 877.4,872.5 877.8,881.0 878.2,873.9 878.6,874.8 879.1,876.9 879.5,874.5 879.9,877.0 880.3,875.3 880.8,878.6 881.2,873.4 881.6,873.9 882.0,873.5 882.4,877.5 882.9,870.3 883.3,869.9 883.7,875.9 884.1,876.8 884.6,876.8 885.0,873.7 885.4,872.7 885.8,877.8 886.3,881.5 886.7,874.3 887.1,875.8 887.5,875.2 887.9,874.2 888.4,878.9 888.8,875.5 889.2,876.5 889.6,874.6 890.1,872.2 890.5,875.7 890.9,878.1 891.3,872.1 891.7,873.6 892.2,876.3 892.6,880.9 893.0,878.2 893.4,875.3 893.9,874.1 894.3,877.2 894.7,874.5 895.1,877.6 895.5,877.0 896.0,874.2 896.4,876.5 896.8,875.3 897.2,873.2 897.7,872.5 898.1,877.5 898.5,876.5 898.9,879.6 899.4,879.5 899.8,874.9 900.2,877.3 900.6,881.1 901.0,874.3 901.5,878.2 901.9,876.7 902.3,874.6 902.7,874.7 903.2,876.0 903.6,881.5 904.0,874.2 904.4,877.5 904.8,879.9 905.3,882.1 905.7,872.0 906.1,875.4 906.5,875.5 907.0,874.1 907.4,876.0 907.8,880.0 908.2,873.9 908.7,872.9 909.1,874.3 909.5,871.4 909.9,870.3 910.3,878.1 910.8,877.1 911.2,873.3 911.6,875.3 912.0,875.2 912.5,873.1 912.9,873.7 913.3,877.1 913.7,875.4 914.1,877.8 914.6,876.4 915.0,879.0 915.4,881.4 915.8,877.2 916.3,877.5 916.7,873.2 917.1,871.3 917.5,875.7 918.0,874.4 918.4,877.6 918.8,878.4 919.2,876.6 919.6,876.6 920.1,874.9 920.5,875.5 920.9,871.1 921.3,876.4 921.8,880.5 922.2,875.4 922.6,877.7 923.0,875.2 923.4,872.6 923.9,877.6 924.3,876.0 924.7,874.3 925.1,878.5 925.6,875.2 926.0,874.2 926.4,873.5 926.8,872.6 927.2,874.2 927.7,874.7 928.1,879.7 928.5,883.4 928.9,878.5 929.4,871.7 929.8,875.4 930.2,882.2 930.6,877.0 931.1,874.7 931.5,881.0 931.9,874.1 932.3,879.0 932.7,872.8 933.2,875.7 933.6,866.9 934.0,879.6 934.4,874.9 934.9,880.0 935.3,872.5 935.7,875.4 936.1,873.1 936.5,875.5 937.0,879.1 937.4,877.6 937.8,879.3 938.2,878.7 938.7,875.3 939.1,872.7 939.5,873.3 939.9,874.3 940.4,877.4 940.8,874.3 941.2,878.2 941.6,875.2 942.0,873.4 942.5,876.3 942.9,877.1 943.3,877.0 943.7,874.0 944.2,876.6 944.6,879.8 945.0,876.9 945.4,878.8 945.8,871.5 946.3,875.7 946.7,879.9 947.1,875.0 947.5,873.7 948.0,874.7 948.4,876.8 948.8,875.3 949.2,875.0 949.7,872.9 950.1,874.7 950.5,869.3 950.9,876.4 951.3,871.4 951.8,875.7 952.2,880.6 952.6,879.1 953.0,880.9 953.5,880.7 953.9,872.3 954.3,877.6 954.7,874.1 955.1,878.3 955.6,875.8 956.0,878.8 956.4,873.3 956.8,876.5 957.3,877.1 957.7,876.2 958.1,869.6 958.5,874.5 958.9,873.4 959.4,879.3 959.8,877.6 960.2,874.9 960.6,881.1 961.1,872.0 961.5,875.0 961.9,875.8 962.3,876.3 962.8,876.5 963.2,877.2 963.6,871.8 964.0,873.8 964.4,872.3 964.9,876.7 965.3,878.3 965.7,871.9 966.1,879.3 966.6,877.5 967.0,873.8 967.4,872.7 967.8,879.5 968.2,876.6 968.7,875.7 969.1,876.2 969.5,878.2 969.9,873.9 970.4,877.3 970.8,876.5 971.2,882.2 971.6,876.1 972.1,881.3 972.5,873.8 972.9,874.4 973.3,877.3 973.7,875.4 974.2,875.5 974.6,876.2 975.0,874.8 975.4,876.2 975.9,877.2 976.3,878.1 976.7,871.1 977.1,875.3 977.5,875.9 978.0,873.8 978.4,876.9 978.8,876.9 979.2,873.9 979.7,872.9 980.1,873.9 980.5,880.0 980.9,875.7 981.4,875.9 981.8,874.5 982.2,878.3 982.6,878.8 983.0,876.2 983.5,878.4 983.9,878.9 984.3,876.0 984.7,873.2 985.2,875.5 985.6,872.7 986.0,878.7 986.4,873.8 986.8,875.9 987.3,878.3 987.7,877.0 988.1,878.3 988.5,876.5 989.0,878.0 989.4,872.3 989.8,876.9 990.2,879.9 990.6,876.4 991.1,874.8 991.5,876.8 991.9,873.4 992.3,878.4 992.8,878.3 993.2,871.3 993.6,875.8 994.0,874.3 994.5,874.5 994.9,874.2 995.3,875.7 995.7,876.4 996.1,872.8 996.6,877.2 997.0,875.5 997.4,873.9 997.8,877.0 998.3,880.2 998.7,874.6 999.1,872.8 999.5,875.1 999.9,880.6 1000.4,874.1 1000.8,870.3 1001.2,880.2 1001.6,883.5 1002.1,876.5 1002.5,875.6 1002.9,873.7 1003.3,873.6 1003.8,875.6 1004.2,874.3 1004.6,874.9 1005.0,875.5 1005.4,876.0 1005.9,876.3 1006.3,873.9 1006.7,874.7 1007.1,877.1 1007.6,872.8 1008.0,877.9 1008.4,876.5 1008.8,875.5 1009.2,881.2 1009.7,876.9 1010.1,873.5 1010.5,873.6 1010.9,879.2 1011.4,878.2 1011.8,878.9 1012.2,876.5 1012.6,876.0 1013.1,880.3 1013.5,875.0 1013.9,875.7 1014.3,876.1 1014.7,877.7 1015.2,876.4 1015.6,880.8 1016.0,875.2 1016.4,875.3 1016.9,876.2 1017.3,879.2 1017.7,872.3 1018.1,872.7 1018.5,881.1 1019.0,874.7 1019.4,875.5 1019.8,883.0 1020.2,874.4 1020.7,874.1 1021.1,873.9 1021.5,875.4 1021.9,877.7 1022.3,877.3 1022.8,874.5 1023.2,872.6 1023.6,877.2 1024.0,876.7 1024.5,873.9 1024.9,881.9 1025.3,874.6 1025.7,876.5 1026.2,882.0 1026.6,873.7 1027.0,878.4 1027.4,873.7 1027.8,872.1 1028.3,879.3 1028.7,879.2 1029.1,875.9 1029.5,880.7 1030.0,873.8 1030.4,875.4 1030.8,873.1 1031.2,881.0 1031.6,875.3 1032.1,874.6 1032.5,880.9 1032.9,873.4 1033.3,879.7 1033.8,875.4 1034.2,879.5 1034.6,873.7 1035.0,871.1 1035.5,875.7 1035.9,875.8 1036.3,872.2 1036.7,877.1 1037.1,875.7 1037.6,873.5 1038.0,874.6 1038.4,871.4 1038.8,872.5 1039.3,870.4 1039.7,875.8 1040.1,872.6 1040.5,878.0 1040.9,873.2 1041.4,870.8 1041.8,869.2 1042.2,879.2 1042.6,876.2 1043.1,873.7 1043.5,878.1 1043.9,874.1 1044.3,874.2 1044.8,877.0 1045.2,877.2 1045.6,878.2 1046.0,874.8 1046.4,872.1 1046.9,874.8 1047.3,867.9 1047.7,879.8 1048.1,877.3 1048.6,873.8 1049.0,878.8 1049.4,874.7 1049.8,873.4 1050.2,875.2 1050.7,876.3 1051.1,873.0 1051.5,874.5 1051.9,873.6 1052.4,874.1 1052.8,877.5 1053.2,878.7 1053.6,876.7 1054.0,875.2 1054.5,876.2 1054.9,873.0 1055.3,875.0 1055.7,873.0 1056.2,875.4 1056.6,877.7 1057.0,873.3 1057.4,874.3 1057.9,878.1 1058.3,876.9 1058.7,867.9 1059.1,885.2 1059.5,872.6 1060.0,875.6 1060.4,875.9 1060.8,876.6 1061.2,877.2 1061.7,869.1 1062.1,877.0 1062.5,876.6 1062.9,873.5 1063.3,874.7 1063.8,876.3 1064.2,876.6 1064.6,879.6 1065.0,872.8 1065.5,878.8 1065.9,882.7 1066.3,872.9 1066.7,873.7 1067.2,874.9 1067.6,877.3 1068.0,872.5 1068.4,878.9 1068.8,882.0 1069.3,875.4 1069.7,873.6 1070.1,874.1 1070.5,870.0 1071.0,873.5 1071.4,876.5 1071.8,876.4 1072.2,873.4 1072.6,876.1 1073.1,876.3 1073.5,880.9 1073.9,876.8 1074.3,879.6 1074.8,875.2 1075.2,875.5 1075.6,873.9 1076.0,870.8 1076.5,876.4 1076.9,871.8 1077.3,879.1 1077.7,875.5 1078.1,873.2 1078.6,870.4 1079.0,879.1 1079.4,876.7 1079.8,875.5 1080.3,876.2 1080.7,878.6 1081.1,880.6 1081.5,879.4 1081.9,876.2 1082.4,879.8 1082.8,870.9 1083.2,872.4 1083.6,881.4 1084.1,877.3 1084.5,872.2 1084.9,871.8 1085.3,872.8 1085.7,880.0 1086.2,877.0 1086.6,872.3 1087.0,875.7 1087.4,877.2 1087.9,874.5 1088.3,873.1 1088.7,875.6 1089.1,875.3 1089.6,872.9 1090.0,877.6 1090.4,878.6 1090.8,873.8 1091.2,879.4 1091.7,874.5 1092.1,878.0 1092.5,873.6 1092.9,879.4 1093.4,872.7 1093.8,875.2 1094.2,876.8 1094.6,878.4 1095.0,876.4 1095.5,878.6 1095.9,879.4 1096.3,872.9 1096.7,874.3 1097.2,872.5 1097.6,879.8 1098.0,881.5 1098.4,880.5 1098.9,874.1 1099.3,873.7 1099.7,881.3 1100.1,873.1 1100.5,877.3 1101.0,879.4 1101.4,876.2 1101.8,874.4 1102.2,876.6 1102.7,876.5 1103.1,878.4 1103.5,880.1 1103.9,877.1 1104.3,880.7 1104.8,874.3 1105.2,878.5 1105.6,872.3 1106.0,880.6 1106.5,872.0 1106.9,878.6 1107.3,878.6 1107.7,875.2 1108.2,873.5 1108.6,876.2 1109.0,877.1 1109.4,870.3 1109.8,874.6 1110.3,879.5 1110.7,876.8 1111.1,871.2 1111.5,875.1 1112.0,873.7 1112.4,870.2 1112.8,877.8 1113.2,875.0 1113.6,878.0 1114.1,876.1 1114.5,874.5 1114.9,879.9 1115.3,875.6 1115.8,875.7 1116.2,873.1 1116.6,877.8 1117.0,879.7 1117.4,874.9 1117.9,879.3 1118.3,875.6 1118.7,874.5 1119.1,878.6 1119.6,876.4 1120.0,879.1 1120.4,884.2 1120.8,880.3 1121.3,882.1 1121.7,876.1 1122.1,879.2 1122.5,876.5 1122.9,876.3 1123.4,873.1 1123.8,877.1 1124.2,877.3 1124.6,874.7 1125.1,871.5 1125.5,876.3 1125.9,875.1 1126.3,876.7 1126.7,878.1 1127.2,880.5 1127.6,876.4 1128.0,876.9 1128.4,876.8 1128.9,870.4 1129.3,877.1 1129.7,875.2 1130.1,877.1 1130.6,872.7 1131.0,877.0 1131.4,870.8 1131.8,876.9 1132.2,873.9 1132.7,873.2 1133.1,876.8 1133.5,873.7 1133.9,875.9 1134.4,878.3 1134.8,878.1 1135.2,875.2 1135.6,871.0 1136.0,877.5 1136.5,874.6 1136.9,878.4 1137.3,875.4 1137.7,879.9 1138.2,878.4 1138.6,876.2 1139.0,878.3 1139.4,876.9 1139.9,873.3 1140.3,876.5 1140.7,878.2 1141.1,879.7 1141.5,877.7 1142.0,872.8 1142.4,876.4 1142.8,876.6 1143.2,874.1 1143.7,873.7 1144.1,873.3 1144.5,877.2 1144.9,878.8 1145.3,880.9 1145.8,878.1 1146.2,877.2 1146.6,874.1 1147.0,875.2 1147.5,877.8 1147.9,873.6 1148.3,879.8 1148.7,879.2 1149.1,879.5 1149.6,879.3 1150.0,876.9 1150.4,878.6 1150.8,878.3 1151.3,872.3 1151.7,880.4 1152.1,879.1 1152.5,876.9 1153.0,874.9 1153.4,874.8 1153.8,876.9 1154.2,877.2 1154.6,876.9 1155.1,874.1 1155.5,878.8 1155.9,882.9 1156.3,875.7 1156.8,879.5 1157.2,876.4 1157.6,872.2 1158.0,875.9 1158.4,871.0 1158.9,880.7 1159.3,875.5 1159.7,875.1 1160.1,873.8 1160.6,878.3 1161.0,875.7 1161.4,875.9 1161.8,875.9 1162.3,880.1 1162.7,881.1 1163.1,874.7 1163.5,875.2 1163.9,876.1 1164.4,874.4 1164.8,873.1 1165.2,879.5 1165.6,874.0 1166.1,871.9 1166.5,873.3 1166.9,874.5 1167.3,874.2 1167.7,880.3 1168.2,877.6 1168.6,873.2 1169.0,871.9 1169.4,874.8 1169.9,877.4 1170.3,876.5 1170.7,873.7 1171.1,870.4 1171.6,873.9 1172.0,877.6 1172.4,874.3 1172.8,874.9 1173.2,869.2 1173.7,874.4 1174.1,876.0 1174.5,876.3 1174.9,879.6 1175.4,879.1 1175.8,877.5 1176.2,878.4 1176.6,875.5 1177.0,875.8 1177.5,873.4 1177.9,871.8 1178.3,875.7 1178.7,876.7 1179.2,881.4 1179.6,875.0 1180.0,874.2 1180.4,878.3 1180.8,877.2 1181.3,878.1 1181.7,873.1 1182.1,874.3 1182.5,872.6 1183.0,879.6 1183.4,868.5 1183.8,878.6 1184.2,879.0 1184.7,875.6 1185.1,877.7 1185.5,870.9 1185.9,877.3 1186.3,878.1 1186.8,873.4 1187.2,872.7 1187.6,878.5 1188.0,877.5 1188.5,877.2 1188.9,876.6 1189.3,871.3 1189.7,872.6 1190.1,873.1 1190.6,872.5 1191.0,876.1 1191.4,873.7 1191.8,876.4 1192.3,878.3 1192.7,871.4 1193.1,881.2 1193.5,876.2 1194.0,877.9 1194.4,881.0 1194.8,877.3 1195.2,876.0 1195.6,874.9 1196.1,878.6 1196.5,874.1 1196.9,875.4 1197.3,873.9 1197.8,881.8 1198.2,877.6 1198.6,878.0 1199.0,874.6 1199.4,878.4 1199.9,877.8 1200.3,879.6 1200.7,879.7 1201.1,879.0 1201.6,873.6 1202.0,879.4 1202.4,883.3 1202.8,875.5 1203.3,877.6 1203.7,874.8 1204.1,874.8 1204.5,877.2 1204.9,877.6 1205.4,877.9 1205.8,876.4 1206.2,878.6 1206.6,875.8 1207.1,872.4 1207.5,878.3 1207.9,878.2 1208.3,878.2 1208.7,874.6 1209.2,874.5 1209.6,872.3 1210.0,874.3 1210.4,876.0 1210.9,875.1 1211.3,880.1 1211.7,874.8 1212.1,875.9 1212.5,870.4 1213.0,872.4 1213.4,878.7 1213.8,878.0 1214.2,873.9 1214.7,882.3 1215.1,879.0 1215.5,875.3 1215.9,874.5 1216.4,875.8 1216.8,873.0 1217.2,877.1 1217.6,876.1 1218.0,876.9 1218.5,879.5 1218.9,876.2 1219.3,877.9 1219.7,876.1 1220.2,883.8 1220.6,876.1 1221.0,877.9 1221.4,878.1 1221.8,876.2 1222.3,877.7 1222.7,873.7 1223.1,872.8 1223.5,873.9 1224.0,873.6 1224.4,875.3 1224.8,876.3 1225.2,880.0 1225.7,877.4 1226.1,872.9 1226.5,874.2 1226.9,877.8 1227.3,876.1 1227.8,873.4 1228.2,876.9 1228.6,871.8 1229.0,878.6 1229.5,874.1 1229.9,874.4 1230.3,875.9 1230.7,875.5 1231.1,874.9 1231.6,882.9 1232.0,875.1 1232.4,873.1 1232.8,875.3 1233.3,873.2 1233.7,879.8 1234.1,876.6 1234.5,875.5 1235.0,877.2 1235.4,873.0 1235.8,875.0 1236.2,877.9 1236.6,874.1 1237.1,874.1 1237.5,877.7 1237.9,874.6 1238.3,875.4 1238.8,875.4 1239.2,880.0 1239.6,872.8 1240.0,874.6 1240.4,876.5 1240.9,875.4 1241.3,875.5 1241.7,877.3 1242.1,878.1 1242.6,876.2 1243.0,878.1 1243.4,877.8 1243.8,879.8 1244.2,877.2 1244.7,873.6 1245.1,875.9 1245.5,876.3 1245.9,877.4 1246.4,877.7 1246.8,880.7 1247.2,871.8 1247.6,878.6 1248.1,880.8 1248.5,875.3 1248.9,875.8 1249.3,878.0 1249.7,880.7 1250.2,880.4 1250.6,872.0 1251.0,876.8 1251.4,878.4 1251.9,871.2 1252.3,878.1 1252.7,879.1 1253.1,875.0 1253.5,875.5 1254.0,872.1 1254.4,881.0 1254.8,875.7 1255.2,881.4 1255.7,875.2 1256.1,878.4 1256.5,877.8 1256.9,878.6 1257.4,874.1 1257.8,871.9 1258.2,876.8 1258.6,877.3 1259.0,878.0 1259.5,875.1 1259.9,879.5 1260.3,866.4 1260.7,877.2 1261.2,871.7 1261.6,876.1 1262.0,880.5 1262.4,881.0 1262.8,877.8 1263.3,878.6 1263.7,877.3 1264.1,879.9 1264.5,869.9 1265.0,870.5 1265.4,881.8 1265.8,875.2 1266.2,873.2 1266.7,877.6 1267.1,877.3 1267.5,873.5 1267.9,875.1 1268.3,880.1 1268.8,873.1 1269.2,878.0 1269.6,871.3 1270.0,879.4 1270.5,883.2 1270.9,876.4 1271.3,873.2 1271.7,875.2 1272.1,876.2 1272.6,879.3 1273.0,874.1 1273.4,882.0 1273.8,874.4 1274.3,880.2 1274.7,878.4 1275.1,880.5 1275.5,879.4 1275.9,872.5 1276.4,880.1 1276.8,876.2 1277.2,879.1 1277.6,873.8 1278.1,880.7 1278.5,876.8 1278.9,874.2 1279.3,870.3 1279.8,880.2 1280.2,879.3 1280.6,877.0 1281.0,872.6 1281.4,879.8 1281.9,874.5 1282.3,878.6 1282.7,879.8 1283.1,881.4 1283.6,876.5 1284.0,874.0 1284.4,877.2 1284.8,883.0 1285.2,878.5 1285.7,874.1 1286.1,874.4 1286.5,876.1 1286.9,872.6 1287.4,880.6 1287.8,880.5 1288.2,870.0 1288.6,875.0 1289.1,877.5 1289.5,878.3 1289.9,884.4 1290.3,874.5 1290.7,882.9 1291.2,882.6 1291.6,877.1 1292.0,872.6 1292.4,878.1 1292.9,875.9 1293.3,878.2 1293.7,875.8 1294.1,881.8 1294.5,870.8 1295.0,879.8 1295.4,875.3 1295.8,882.9 1296.2,871.8 1296.7,875.7 1297.1,871.1 1297.5,878.9 1297.9,873.9 1298.4,877.5 1298.8,877.1 1299.2,873.2 1299.6,879.6 1300.0,874.8 1300.5,871.3 1300.9,871.9 1301.3,873.8 1301.7,876.0 1302.2,879.8 1302.6,872.8 1303.0,878.9 1303.4,873.4 1303.8,877.9 1304.3,876.9 1304.7,876.9 1305.1,875.2 1305.5,878.2 1306.0,876.4 1306.4,878.4 1306.8,875.4 1307.2,876.1 1307.6,875.7 1308.1,879.4 1308.5,876.0 1308.9,876.8 1309.3,875.2 1309.8,876.8 1310.2,879.8 1310.6,874.8 1311.0,878.9 1311.5,876.1 1311.9,883.0 1312.3,875.5 1312.7,875.1 1313.1,879.7 1313.6,875.3 1314.0,878.1 1314.4,873.0 1314.8,875.1 1315.3,880.6 1315.7,877.6 1316.1,882.1 1316.5,877.9 1316.9,875.4 1317.4,874.6 1317.8,877.3 1318.2,877.7 1318.6,876.5 1319.1,878.8 1319.5,876.1 1319.9,873.8 1320.3,876.5 1320.8,874.5 1321.2,879.3 1321.6,878.4 1322.0,876.0 1322.4,871.1 1322.9,874.1 1323.3,872.0 1323.7,876.8 1324.1,873.4 1324.6,881.9 1325.0,875.5 1325.4,883.0 1325.8,873.4 1326.2,875.6 1326.7,873.6 1327.1,875.8 1327.5,878.4 1327.9,879.1 1328.4,876.4 1328.8,872.6 1329.2,875.1 1329.6,878.5 1330.1,878.6 1330.5,879.0 1330.9,877.6 1331.3,877.2 1331.7,878.4 1332.2,876.9 1332.6,881.5 1333.0,872.4 1333.4,876.2 1333.9,872.5 1334.3,876.1 1334.7,877.5 1335.1,876.7 1335.5,876.3 1336.0,878.9 1336.4,878.1 1336.8,871.4 1337.2,874.2 1337.7,878.5 1338.1,875.5 1338.5,879.4 1338.9,872.9 1339.3,879.9 1339.8,874.4 1340.2,876.9 1340.6,876.9 1341.0,879.3 1341.5,877.7 1341.9,879.2 1342.3,879.5 1342.7,875.6 1343.2,869.7 1343.6,878.0 1344.0,874.1 1344.4,877.0 1344.8,879.1 1345.3,873.1 1345.7,875.2 1346.1,873.7 1346.5,876.7 1347.0,876.6 1347.4,879.4 1347.8,877.8 1348.2,872.2 1348.6,883.6 1349.1,875.9 1349.5,872.8 1349.9,874.7 1350.3,874.5 1350.8,877.8 1351.2,873.8 1351.6,873.7 1352.0,877.1 1352.5,872.2 1352.9,878.4 1353.3,884.2 1353.7,877.1 1354.1,877.4 1354.6,879.5 1355.0,878.4 1355.4,878.6 1355.8,882.3 1356.3,873.5 1356.7,877.0 1357.1,869.3 1357.5,877.1 1357.9,875.9 1358.4,881.4 1358.8,874.1 1359.2,880.2 1359.6,875.5 1360.1,874.4 1360.5,874.9 1360.9,879.5 1361.3,879.4 1361.8,874.9 1362.2,873.7 1362.6,873.0 1363.0,877.2 1363.4,877.4 1363.9,872.0 1364.3,878.8 1364.7,874.9 1365.1,878.0 1365.6,881.2 1366.0,880.4 1366.4,875.9 1366.8,876.5 1367.2,875.7 1367.7,878.2 1368.1,878.6 1368.5,876.4 1368.9,877.7 1369.4,881.8 1369.8,878.4 1370.2,872.3 1370.6,879.4 1371.0,875.6 1371.5,877.4 1371.9,875.1 1372.3,879.7 1372.7,880.9 1373.2,876.0 1373.6,879.3 1374.0,877.4 1374.4,878.2 1374.9,874.5 1375.3,876.5 1375.7,876.9 1376.1,880.1 1376.5,881.8 1377.0,879.7 1377.4,874.9 1377.8,875.3 1378.2,875.6 1378.7,878.5 1379.1,880.3 1379.5,874.0 1379.9,876.8 1380.3,875.8 1380.8,880.0 1381.2,879.3 1381.6,875.5 1382.0,875.2 1382.5,880.2 1382.9,876.5 1383.3,880.7 1383.7,873.9 1384.2,875.5 1384.6,870.9 1385.0,873.1 1385.4,879.3 1385.8,876.8 1386.3,878.8 1386.7,877.0 1387.1,875.2 1387.5,877.4 1388.0,877.2 1388.4,881.2 1388.8,875.8 1389.2,877.5 1389.6,875.6 1390.1,874.5 1390.5,877.3 1390.9,875.4 1391.3,879.2 1391.8,874.8 1392.2,877.5 1392.6,879.1 1393.0,878.1 1393.5,881.5 1393.9,879.3 1394.3,878.7 1394.7,877.4 1395.1,877.7 1395.6,879.3 1396.0,878.0 1396.4,883.6 1396.8,877.3 1397.3,875.9 1397.7,875.3 1398.1,874.5 1398.5,878.1 1398.9,877.8 1399.4,878.9 1399.8,878.9 1400.2,877.2 1400.6,873.7 1401.1,882.4 1401.5,879.0 1401.9,876.8 1402.3,880.4 1402.7,876.4 1403.2,881.5 1403.6,878.6 1404.0,882.3 1404.4,876.8 1404.9,879.9 1405.3,875.8 1405.7,878.5 1406.1,880.4 1406.6,878.9 1407.0,877.3 1407.4,877.7 1407.8,878.4 1408.2,878.7 1408.7,877.7 1409.1,875.3 1409.5,879.3 1409.9,876.5 1410.4,881.5 1410.8,875.1 1411.2,876.7 1411.6,878.7 1412.0,878.7 1412.5,882.5 1412.9,877.5 1413.3,878.5 1413.7,881.7 1414.2,879.0 1414.6,876.1 1415.0,877.3 1415.4,877.0 1415.9,879.3 1416.3,875.4 1416.7,877.9 1417.1,875.4 1417.5,871.5 1418.0,883.4 1418.4,879.2 1418.8,877.8 1419.2,879.9 1419.7,874.9 1420.1,878.8 1420.5,873.1 1420.9,875.7 1421.3,876.6 1421.8,877.9 1422.2,875.4 1422.6,876.4 1423.0,873.6 1423.5,876.6 1423.9,874.9 1424.3,876.6 1424.7,876.8 1425.2,882.2 1425.6,877.8 1426.0,876.7 1426.4,881.1 1426.8,881.7 1427.3,878.7 1427.7,877.0 1428.1,882.6 1428.5,876.9 1429.0,875.1 1429.4,878.5 1429.8,877.2 1430.2,876.5 1430.6,879.7 1431.1,876.1 1431.5,876.6 1431.9,881.4 1432.3,876.4 1432.8,875.4 1433.2,880.9 1433.6,875.4 1434.0,878.6 1434.4,881.7 1434.9,880.8 1435.3,880.4 1435.7,876.4 1436.1,879.3 1436.6,879.0 1437.0,881.5 1437.4,877.9 1437.8,881.4 1438.3,879.8 1438.7,876.2 1439.1,876.1 1439.5,879.4 1439.9,878.1 1440.4,876.5 1440.8,878.0 1441.2,874.6 1441.6,874.2 1442.1,878.2 1442.5,881.5 1442.9,878.4 1443.3,874.2 1443.7,874.8 1444.2,874.6 1444.6,874.8 1445.0,879.5 1445.4,877.2 1445.9,874.9 1446.3,877.3 1446.7,875.6 1447.1,880.9 1447.6,881.6 1448.0,872.5 1448.4,876.1 1448.8,876.6 1449.2,874.2 1449.7,872.2 1450.1,873.9 1450.5,890.3 1450.9,896.5 1451.4,911.8 1451.8,924.6 1452.2,931.8 1452.6,945.0 1453.0,970.9 1453.5,1002.1 1453.6,1054.0 1453.5,1085.2"/>
<polyline stroke="#696969" points="193.5,1020.4 193.9,1020.4 194.3,1020.4 194.8,1020.4 195.2,1020.4 195.6,1020.4 196.0,1020.4 196.5,1020.4 196.9,1021.1 197.3,1022.9 197.7,1026.9 198.1,1032.9 198.6,1037.4 199.0,1039.8 199.4,1041.9 199.8,1042.7 200.3,1042.6 200.7,1043.3 201.1,1042.4 201.5,1043.7 202.0,1043.5 202.4,1041.3 202.8,1042.8 203.2,1044.4 203.6,1043.9 204.1,1042.8 204.5,1040.8 204.9,1044.0 205.3,1044.0 205.8,1042.2 206.2,1044.9 206.6,1044.0 207.0,1042.3 207.4,1042.8 207.9,1043.5 208.3,1042.6 208.7,1047.7 209.1,1042.1 209.6,1045.0 210.0,1046.0 210.4,1043.2 210.8,1042.6 211.3,1044.3 211.7,1045.2 212.1,1043.6 212.5,1043.7 212.9,1041.6 213.4,1042.5 213.8,1043.3 214.2,1042.0 214.6,1043.9 215.1,1045.0 215.5,1042.8 215.9,1042.8 216.3,1043.9 216.7,1044.8 217.2,1043.3 217.6,1047.2 218.0,1042.6 218.4,1042.9 218.9,1046.0 219.3,1043.5 219.7,1045.0 220.1,1042.5 220.6,1046.6 221.0,1044.9 221.4,1042.6 221.8,1041.9 222.2,1046.8 222.7,1044.3 223.1,1043.1 223.5,1044.5 223.9,1041.3 224.4,1045.3 224.8,1043.1 225.2,1045.1 225.6,1041.6 226.0,1043.6 226.5,1044.2 226.9,1046.1 227.3,1041.2 227.7,1042.5 228.2,1042.5 228.6,1042.0 229.0,1043.1 229.4,1044.5 229.8,1044.8 230.3,1044.8 230.7,1041.6 231.1,1045.7 231.5,1044.5 232.0,1044.1 232.4,1043.3 232.8,1042.8 233.2,1045.4 233.7,1046.1 234.1,1043.6 234.5,1041.9 234.9,1042.5 235.3,1043.3 235.8,1044.1 236.2,1043.2 236.6,1044.0 237.0,1042.4 237.5,1044.8 237.9,1043.4 238.3,1043.8 238.7,1042.8 239.1,1043.3 239.6,1039.9 240.0,1041.4 240.4,1041.4 240.8,1046.6 241.3,1044.1 241.7,1044.5 242.1,1042.8 242.5,1046.9 243.0,1041.9 243.4,1042.1 243.8,1045.5 244.2,1045.0 244.6,1044.8 245.1,1043.6 245.5,1042.7 245.9,1040.6 246.3,1043.9 246.8,1042.5 247.2,1043.4 247.6,1041.1 248.0,1042.5 248.4,1041.6 248.9,1045.2 249.3,1043.9 249.7,1044.8 250.1,1041.4 250.6,1042.7 251.0,1044.1 251.4,1044.3 251.8,1042.9 252.3,1044.6 252.7,1045.0 253.1,1042.9 253.5,1040.0 253.9,1044.0 254.4,1044.4 254.8,1045.3 255.2,1045.6 255.6,1042.9 256.1,1042.4 256.5,1043.6 256.9,1043.1 257.3,1043.5 257.7,1043.4 258.2,1045.8 258.6,1044.3 259.0,1043.5 259.4,1044.8 259.9,1044.3 260.3,1044.8 260.7,1044.1 261.1,1042.4 261.5,1044.2 262.0,1043.9 262.4,1042.4 262.8,1042.7 263.2,1041.2 263.7,1046.7 264.1,1042.4 264.5,1044.3 264.9,1043.4 265.4,1042.4 265.8,1042.1 266.2,1042.1 266.6,1043.4 267.0,1041.3 267.5,1044.0 267.9,1043.8 268.3,1042.5 268.7,1044.4 269.2,1040.5 269.6,1042.2 270.0,1040.5 270.4,1043.7 270.8,1044.2 271.3,1043.4 271.7,1042.6 272.1,1044.5 272.5,1043.1 273.0,1043.7 273.4,1041.3 273.8,1044.6 274.2,1042.1 274.7,1044.6 275.1,1045.0 275.5,1044.7 275.9,1045.4 276.3,1043.4 276.8,1042.1 277.2,1043.4 277.6,1042.7 278.0,1041.3 278.5,1043.3 278.9,1043.4 279.3,1044.1 279.7,1046.0 280.1,1042.5 280.6,1046.2 281.0,1042.7 281.4,1043.7 281.8,1042.0 282.3,1043.8 282.7,1044.9 283.1,1043.1 283.5,1044.5 284.0,1043.9 284.4,1043.6 284.8,1043.9 285.2,1043.9 285.6,1044.9 286.1,1043.9 286.5,1046.8 286.9,1043.9 287.3,1045.4 287.8,1042.0 288.2,1041.8 288.6,1046.5 289.0,1043.5 289.4,1043.9 289.9,1045.2 290.3,1042.9 290.7,1044.3 291.1,1046.2 291.6,1044.1 292.0,1043.9 292.4,1043.5 292.8,1045.5 293.2,1042.8 293.7,1042.6 294.1,1045.3 294.5,1044.6 294.9,1043.8 295.4,1044.5 295.8,1041.1 296.2,1043.4 296.6,1045.2 297.1,1044.8 297.5,1043.8 297.9,1040.4 298.3,1043.9 298.7,1043.5 299.2,1042.9 299.6,1043.8 300.0,1040.4 300.4,1044.5 300.9,1042.6 301.3,1043.5 301.7,1042.8 302.1,1045.4 302.5,1041.1 303.0,1043.9 303.4,1043.7 303.8,1045.1 304.2,1044.8 304.7,1042.9 305.1,1042.3 305.5,1042.6 305.9,1042.0 306.4,1042.7 306.8,1043.7 307.2,1042.5 307.6,1042.8 308.0,1043.9 308.5,1042.7 308.9,1041.8 309.3,1043.4 309.7,1044.2 310.2,1042.7 310.6,1041.0 311.0,1044.0 311.4,1043.9 311.8,1043.9 312.3,1041.9 312.7,1046.4 313.1,1043.2 313.5,1042.0 314.0,1044.9 314.4,1041.6 314.8,1043.0 315.2,1044.5 315.7,1043.4 316.1,1046.0 316.5,1044.6 316.9,1041.1 317.3,1045.0 317.8,1041.1 318.2,1043.9 318.6,1042.3 319.0,1043.7 319.5,1047.0 319.9,1044.6 320.3,1043.5 320.7,1045.4 321.1,1045.7 321.6,1043.2 322.0,1044.7 322.4,1046.2 322.8,1044.7 323.3,1042.5 323.7,1044.4 324.1,1042.4 324.5,1041.5 324.9,1043.7 325.4,1045.4 325.8,1045.7 326.2,1043.8 326.6,1042.5 327.1,1043.4 327.5,1043.0 327.9,1044.4 328.3,1043.3 328.8,1044.5 329.2,1044.2 329.6,1045.7 330.0,1046.1 330.4,1044.5 330.9,1045.4 331.3,1045.2 331.7,1042.8 332.1,1043.9 332.6,1039.5 333.0,1042.4 333.4,1044.7 333.8,1042.7 334.2,1043.3 334.7,1044.8 335.1,1042.2 335.5,1044.9 335.9,1048.2 336.4,1042.6 336.8,1044.7 337.2,1041.6 337.6,1044.7 338.1,1045.5 338.5,1041.6 338.9,1045.4 339.3,1043.5 339.7,1041.7 340.2,1043.6 340.6,1043.9 341.0,1043.7 341.4,1042.6 341.9,1045.0 342.3,1042.9 342.7,1043.0 343.1,1040.4 343.5,1044.3 344.0,1045.2 344.4,1042.8 344.8,1044.4 345.2,1043.4 345.7,1043.6 346.1,1042.1 346.5,1044.8 346.9,1044.0 347.4,1047.5 347.8,1045.1 348.2,1041.6 348.6,1044.8 349.0,1044.9 349.5,1045.6 349.9,1043.0 350.3,1043.6 350.7,1045.6 351.2,1042.9 351.6,1043.5 352.0,1042.8 352.4,1044.8 352.8,1041.3 353.3,1043.3 353.7,1044.0 354.1,1044.6 354.5,1044.2 355.0,1042.6 355.4,1044.3 355.8,1042.3 356.2,1043.0 356.6,1041.9 357.1,1042.7 357.5,1044.0 357.9,1046.7 358.3,1043.4 358.8,1042.7 359.2,1043.6 359.6,1043.1 360.0,1044.6 360.5,1044.4 360.9,1045.3 361.3,1041.9 361.7,1043.7 362.1,1044.6 362.6,1045.8 363.0,1044.1 363.4,1041.8 363.8,1043.2 364.3,1045.0 364.7,1041.8 365.1,1041.8 365.5,1042.5 365.9,1042.8 366.4,1042.2 366.8,1043.1 367.2,1042.8 367.6,1045.1 368.1,1041.7 368.5,1043.6 368.9,1041.0 369.3,1046.9 369.8,1042.9 370.2,1042.5 370.6,1044.4 371.0,1043.3 371.4,1042.8 371.9,1043.1 372.3,1044.7 372.7,1044.1 373.1,1042.5 373.6,1042.1 374.0,1043.8 374.4,1043.8 374.8,1043.7 375.2,1042.4 375.7,1045.5 376.1,1045.9 376.5,1043.8 376.9,1045.6 377.4,1044.8 377.8,1043.8 378.2,1043.3 378.6,1045.5 379.1,1042.8 379.5,1046.5 379.9,1043.2 380.3,1046.3 380.7,1045.8 381.2,1043.0 381.6,1044.6 382.0,1045.1 382.4,1044.6 382.9,1043.3 383.3,1044.1 383.7,1044.0 384.1,1042.5 384.5,1045.0 385.0,1044.7 385.4,1044.8 385.8,1042.3 386.2,1042.6 386.7,1042.1 387.1,1044.1 387.5,1044.2 387.9,1042.8 388.3,1044.6 388.8,1042.8 389.2,1043.0 389.6,1045.0 390.0,1044.1 390.5,1044.2 390.9,1041.5 391.3,1040.3 391.7,1044.2 392.2,1044.0 392.6,1047.3 393.0,1043.7 393.4,1044.0 393.8,1045.6 394.3,1042.9 394.7,1046.3 395.1,1044.4 395.5,1043.8 396.0,1045.9 396.4,1042.8 396.8,1042.5 397.2,1046.1 397.6,1046.1 398.1,1043.2 398.5,1044.1 398.9,1045.8 399.3,1044.5 399.8,1044.2 400.2,1044.3 400.6,1042.9 401.0,1043.5 401.5,1041.5 401.9,1042.1 402.3,1043.1 402.7,1042.5 403.1,1042.2 403.6,1043.1 404.0,1045.9 404.4,1042.8 404.8,1044.0 405.3,1041.7 405.7,1044.0 406.1,1043.3 406.5,1043.6 406.9,1041.7 407.4,1043.8 407.8,1044.5 408.2,1043.7 408.6,1044.8 409.1,1043.9 409.5,1044.1 409.9,1043.7 410.3,1041.3 410.8,1044.7 411.2,1044.1 411.6,1044.4 412.0,1043.2 412.4,1045.8 412.9,1045.1 413.3,1044.2 413.7,1043.3 414.1,1044.2 414.6,1044.9 415.0,1045.4 415.4,1043.4 415.8,1042.1 416.2,1043.7 416.7,1043.9 417.1,1043.5 417.5,1045.5 417.9,1044.6 418.4,1044.6 418.8,1043.7 419.2,1044.2 419.6,1045.9 420.0,1042.5 420.5,1041.7 420.9,1044.6 421.3,1043.6 421.7,1043.8 422.2,1043.0 422.6,1046.3 423.0,1041.8 423.4,1044.9 423.9,1042.4 424.3,1044.1 424.7,1044.8 425.1,1044.4 425.5,1042.9 426.0,1045.5 426.4,1044.8 426.8,1044.9 427.2,1046.7 427.7,1042.3 428.1,1043.4 428.5,1044.2 428.9,1042.5 429.3,1045.6 429.8,1044.3 430.2,1041.7 430.6,1042.8 431.0,1047.5 431.5,1049.1 431.9,1045.7 432.3,1042.7 432.7,1044.9 433.2,1044.6 433.6,1043.4 434.0,1045.5 434.4,1043.9 434.8,1043.1 435.3,1043.6 435.7,1043.7 436.1,1045.1 436.5,1043.5 437.0,1044.9 437.4,1042.4 437.8,1040.5 438.2,1045.3 438.6,1047.4 439.1,1044.9 439.5,1043.7 439.9,1042.8 440.3,1042.7 440.8,1045.4 441.2,1045.4 441.6,1042.5 442.0,1045.9 442.5,1042.7 442.9,1044.6 443.3,1043.2 443.7,1043.3 444.1,1043.2 444.6,1043.1 445.0,1045.8 445.4,1043.9 445.8,1044.3 446.3,1043.9 446.7,1042.5 447.1,1044.7 447.5,1045.4 447.9,1045.4 448.4,1044.8 448.8,1043.2 449.2,1045.5 449.6,1042.7 450.1,1043.9 450.5,1044.7 450.9,1046.3 451.3,1044.0 451.7,1043.3 452.2,1046.9 452.6,1042.6 453.0,1042.0 453.4,1043.9 453.9,1043.7 454.3,1040.9 454.7,1042.6 455.1,1045.7 455.6,1044.4 456.0,1044.6 456.4,1044.6 456.8,1047.8 457.2,1043.3 457.7,1045.3 458.1,1044.2 458.5,1044.6 458.9,1043.1 459.4,1044.8 459.8,1045.6 460.2,1043.6 460.6,1042.4 461.0,1044.9 461.5,1042.4 461.9,1044.0 462.3,1045.2 462.7,1042.2 463.2,1045.6 463.6,1043.0 464.0,1045.2 464.4,1043.8 464.9,1046.2 465.3,1045.7 465.7,1042.9 466.1,1044.2 466.5,1044.4 467.0,1045.1 467.4,1043.8 467.8,1046.5 468.2,1046.1 468.7,1044.7 469.1,1045.7 469.5,1045.5 469.9,1044.6 470.3,1044.7 470.8,1044.8 471.2,1042.1 471.6,1043.0 472.0,1042.7 472.5,1044.5 472.9,1045.2 473.3,1046.6 473.7,1045.0 474.2,1047.5 474.6,1045.3 475.0,1043.4 475.4,1042.1 475.8,1043.1 476.3,1045.8 476.7,1043.8 477.1,1045.7 477.5,1043.3 478.0,1044.7 478.4,1043.3 478.8,1040.8 479.2,1043.2 479.6,1041.1 480.1,1044.3 480.5,1045.0 480.9,1042.6 481.3,1042.0 481.8,1045.3 482.2,1044.4 482.6,1046.6 483.0,1044.8 483.4,1043.3 483.9,1044.7 484.3,1045.4 484.7,1046.6 485.1,1044.0 485.6,1043.4 486.0,1043.7 486.4,1044.2 486.8,1046.4 487.3,1042.0 487.7,1044.7 488.1,1044.8 488.5,1043.5 488.9,1047.7 489.4,1044.7 489.8,1044.8 490.2,1044.1 490.6,1042.6 491.1,1043.9 491.5,1047.3 491.9,1045.1 492.3,1044.3 492.7,1044.4 493.2,1046.5 493.6,1047.0 494.0,1043.8 494.4,1044.1 494.9,1044.7 495.3,1047.1 495.7,1042.0 496.1,1048.8 496.6,1045.2 497.0,1041.6 497.4,1044.9 497.8,1044.3 498.2,1046.4 498.7,1042.7 499.1,1046.5 499.5,1044.3 499.9,1044.5 500.4,1046.2 500.8,1043.4 501.2,1046.7 501.6,1045.7 502.0,1044.7 502.5,1045.3 502.9,1044.0 503.3,1043.3 503.7,1045.1 504.2,1045.5 504.6,1045.4 505.0,1045.2 505.4,1043.5 505.9,1045.0 506.3,1044.1 506.7,1044.8 507.1,1045.9 507.5,1043.5 508.0,1046.2 508.4,1044.7 508.8,1042.6 509.2,1046.3 509.7,1044.8 510.1,1047.0 510.5,1045.5 510.9,1046.9 511.3,1045.3 511.8,1045.5 512.2,1044.5 512.6,1042.4 513.0,1044.3 513.5,1043.8 513.9,1044.8 514.3,1045.1 514.7,1046.0 515.1,1047.4 515.6,1044.7 516.0,1042.4 516.4,1044.1 516.8,1045.5 517.3,1042.4 517.7,1045.4 518.1,1045.7 518.5,1046.5 519.0,1046.2 519.4,1045.1 519.8,1041.9 520.2,1045.1 520.6,1046.3 521.1,1045.7 521.5,1045.1 521.9,1047.3 522.3,1044.6 522.8,1043.8 523.2,1044.3 523.6,1043.9 524.0,1046.7 524.4,1047.3 524.9,1043.0 525.3,1043.2 525.7,1047.1 526.1,1044.5 526.6,1044.8 527.0,1044.0 527.4,1044.5 527.8,1045.6 528.3,1044.6 528.7,1044.6 529.1,1044.9 529.5,1047.5 529.9,1049.2 530.4,1046.0 530.8,1047.2 531.2,1044.5 531.6,1043.8 532.1,1044.5 532.5,1045.4 532.9,1044.8 533.3,1043.2 533.7,1045.9 534.2,1043.5 534.6,1043.9 535.0,1044.5 535.4,1042.8 535.9,1045.9 536.3,1043.5 536.7,1046.3 537.1,1046.0 537.6,1046.5 538.0,1044.3 538.4,1046.3 538.8,1044.8 539.2,1046.6 539.7,1043.4 540.1,1042.3 540.5,1044.6 540.9,1042.5 541.4,1044.1 541.8,1041.8 542.2,1044.8 542.6,1047.2 543.0,1042.8 543.5,1045.1 543.9,1046.5 544.3,1045.9 544.7,1047.3 545.2,1045.2 545.6,1046.5 546.0,1042.8 546.4,1044.0 546.8,1047.4 547.3,1047.2 547.7,1045.8 548.1,1047.8 548.5,1045.1 549.0,1045.1 549.4,1046.1 549.8,1045.8 550.2,1044.3 550.7,1042.9 551.1,1042.8 551.5,1045.0 551.9,1043.8 552.3,1046.1 552.8,1044.4 553.2,1046.4 553.6,1044.0 554.0,1046.8 554.5,1046.4 554.9,1045.0 555.3,1044.2 555.7,1047.1 556.1,1045.8 556.6,1044.8 557.0,1044.7 557.4,1046.3 557.8,1044.9 558.3,1045.4 558.7,1043.0 559.1,1044.3 559.5,1047.0 560.0,1048.3 560.4,1044.9 560.8,1043.4 561.2,1044.8 561.6,1043.8 562.1,1045.8 562.5,1047.1 562.9,1044.0 563.3,1044.9 563.8,1044.1 564.2,1047.1 564.6,1044.8 565.0,1046.0 565.4,1043.9 565.9,1046.0 566.3,1046.0 566.7,1046.0 567.1,1043.3 567.6,1045.1 568.0,1046.2 568.4,1046.6 568.8,1046.6 569.3,1043.0 569.7,1047.8 570.1,1046.4 570.5,1044.2 570.9,1043.4 571.4,1045.4 571.8,1044.0 572.2,1044.0 572.6,1043.7 573.1,1045.1 573.5,1042.8 573.9,1044.9 574.3,1042.9 574.7,1046.7 575.2,1043.8 575.6,1047.0 576.0,1047.3 576.4,1044.4 576.9,1046.3 577.3,1044.5 577.7,1046.7 578.1,1042.8 578.5,1045.1 579.0,1046.8 579.4,1044.9 579.8,1043.9 580.2,1046.3 580.7,1044.4 581.1,1042.2 581.5,1043.9 581.9,1045.2 582.4,1046.0 582.8,1044.3 583.2,1047.4 583.6,1049.6 584.0,1046.1 584.5,1046.7 584.9,1042.6 585.3,1045.0 585.7,1046.6 586.2,1046.9 586.6,1044.4 587.0,1046.4 587.4,1046.0 587.8,1045.3 588.3,1045.0 588.7,1045.0 589.1,1045.0 589.5,1043.3 590.0,1042.7 590.4,1047.6 590.8,1041.4 591.2,1045.0 591.7,1043.4 592.1,1046.3 592.5,1044.7 592.9,1044.9 593.3,1045.0 593.8,1044.0 594.2,1044.3 594.6,1046.7 595.0,1045.4 595.5,1044.1 595.9,1044.2 596.3,1045.7 596.7,1045.6 597.1,1045.4 597.6,1046.8 598.0,1047.1 598.4,1042.9 598.8,1045.8 599.3,1045.1 599.7,1046.3 600.1,1043.4 600.5,1042.7 601.0,1045.6 601.4,1044.5 601.8,1046.4 602.2,1042.7 602.6,1043.9 603.1,1046.5 603.5,1043.5 603.9,1044.7 604.3,1044.7 604.8,1044.8 605.2,1046.3 605.6,1046.1 606.0,1044.4 606.4,1045.4 606.9,1046.7 607.3,1042.3 607.7,1045.6 608.1,1046.1 608.6,1046.3 609.0,1044.3 609.4,1043.9 609.8,1045.0 610.2,1044.1 610.7,1047.5 611.1,1045.9 611.5,1046.0 611.9,1045.3 612.4,1044.6 612.8,1048.3 613.2,1040.8 613.6,1046.6 614.1,1044.9 614.5,1044.2 614.9,1044.1 615.3,1045.0 615.7,1049.6 616.2,1047.0 616.6,1044.3 617.0,1046.7 617.4,1046.9 617.9,1048.8 618.3,1043.6 618.7,1044.7 619.1,1046.7 619.5,1045.6 620.0,1045.6 620.4,1047.1 620.8,1045.8 621.2,1045.1 621.7,1044.7 622.1,1043.6 622.5,1045.4 622.9,1046.1 623.4,1044.9 623.8,1046.4 624.2,1047.3 624.6,1043.8 625.0,1046.0 625.5,1045.3 625.9,1044.6 626.3,1047.1 626.7,1044.6 627.2,1044.9 627.6,1045.7 628.0,1044.9 628.4,1046.6 628.8,1048.7 629.3,1045.9 629.7,1046.9 630.1,1044.3 630.5,1045.2 631.0,1046.3 631.4,1045.5 631.8,1043.6 632.2,1043.9 632.7,1045.0 633.1,1044.9 633.5,1046.0 633.9,1045.8 634.3,1044.7 634.8,1045.7 635.2,1045.1 635.6,1047.2 636.0,1048.0 636.5,1048.1 636.9,1046.2 637.3,1043.7 637.7,1043.9 638.1,1047.0 638.6,1047.9 639.0,1044.4 639.4,1044.9 639.8,1047.6 640.3,1044.1 640.7,1045.4 641.1,1043.7 641.5,1045.1 641.9,1044.3 642.4,1045.2 642.8,1047.0 643.2,1046.0 643.6,1046.6 644.1,1044.4 644.5,1047.1 644.9,1047.9 645.3,1044.7 645.8,1044.0 646.2,1043.6 646.6,1044.1 647.0,1047.9 647.4,1046.7 647.9,1046.5 648.3,1045.7 648.7,1048.8 649.1,1045.7 649.6,1045.3 650.0,1047.1 650.4,1045.5 650.8,1044.0 651.2,1045.6 651.7,1044.2 652.1,1044.2 652.5,1045.1 652.9,1045.1 653.4,1046.2 653.8,1043.9 654.2,1046.4 654.6,1046.7 655.1,1044.7 655.5,1046.8 655.9,1045.1 656.3,1044.2 656.7,1045.6 657.2,1045.6 657.6,1044.4 658.0,1044.6 658.4,1048.0 658.9,1047.6 659.3,1043.8 659.7,1045.2 660.1,1048.8 660.5,1047.7 661.0,1045.7 661.4,1047.2 661.8,1045.1 662.2,1045.6 662.7,1045.1 663.1,1047.5 663.5,1044.9 663.9,1042.9 664.4,1046.9 664.8,1043.9 665.2,1044.3 665.6,1044.8 666.0,1045.9 666.5,1047.5 666.9,1047.1 667.3,1044.7 667.7,1044.4 668.2,1044.0 668.6,1044.4 669.0,1044.5 669.4,1046.4 669.8,1047.6 670.3,1045.5 670.7,1045.1 671.1,1045.7 671.5,1048.0 672.0,1046.6 672.4,1048.0 672.8,1045.6 673.2,1047.4 673.6,1046.1 674.1,1045.4 674.5,1045.6 674.9,1043.8 675.3,1047.4 675.8,1049.0 676.2,1044.5 676.6,1043.8 677.0,1043.8 677.5,1045.4 677.9,1045.1 678.3,1045.7 678.7,1047.7 679.1,1046.7 679.6,1045.1 680.0,1046.7 680.4,1043.1 680.8,1048.1 681.3,1046.5 681.7,1044.3 682.1,1046.8 682.5,1047.5 682.9,1047.9 683.4,1046.9 683.8,1043.7 684.2,1045.3 684.6,1045.1 685.1,1046.6 685.5,1044.7 685.9,1045.7 686.3,1047.2 686.8,1046.6 687.2,1045.6 687.6,1044.2 688.0,1046.0 688.4,1045.2 688.9,1043.0 689.3,1047.1 689.7,1047.7 690.1,1044.5 690.6,1045.3 691.0,1046.1 691.4,1045.5 691.8,1046.4 692.2,1045.2 692.7,1046.4 693.1,1044.8 693.5,1047.6 693.9,1047.1 694.4,1045.8 694.8,1046.6 695.2,1044.9 695.6,1046.0 696.1,1046.7 696.5,1045.7 696.9,1046.7 697.3,1048.2 697.7,1047.6 698.2,1047.1 698.6,1046.7 699.0,1045.8 699.4,1044.7 699.9,1045.2 700.3,1043.4 700.7,1044.1 701.1,1046.3 701.5,1043.6 702.0,1044.3 702.4,1046.6 702.8,1045.5 703.2,1044.4 703.7,1045.6 704.1,1044.5 704.5,1045.4 704.9,1045.0 705.3,1046.5 705.8,1045.5 706.2,1046.5 706.6,1045.0 707.0,1048.5 707.5,1045.5 707.9,1044.2 708.3,1045.2 708.7,1046.1 709.2,1045.2 709.6,1047.3 710.0,1047.2 710.4,1046.6 710.8,1046.3 711.3,1044.6 711.7,1047.3 712.1,1044.6 712.5,1048.3 713.0,1047.2 713.4,1046.1 713.8,1044.4 714.2,1047.0 714.6,1049.2 715.1,1045.5 715.5,1046.1 715.9,1047.6 716.3,1047.6 716.8,1047.1 717.2,1045.9 717.6,1045.1 718.0,1048.2 718.5,1042.8 718.9,1046.1 719.3,1046.6 719.7,1045.1 720.1,1045.9 720.6,1042.7 721.0,1044.5 721.4,1046.6 721.8,1046.7 722.3,1046.8 722.7,1046.6 723.1,1045.1 723.5,1047.1 723.9,1043.8 724.4,1046.2 724.8,1046.3 725.2,1044.8 725.6,1049.0 726.1,1047.5 726.5,1045.3 726.9,1046.1 727.3,1046.2 727.8,1045.6 728.2,1047.0 728.6,1046.4 729.0,1048.1 729.4,1048.9 729.9,1044.3 730.3,1047.5 730.7,1047.2 731.1,1044.1 731.6,1044.6 732.0,1046.9 732.4,1047.0 732.8,1046.3 733.2,1047.6 733.7,1045.4 734.1,1046.0 734.5,1046.0 734.9,1045.1 735.4,1045.2 735.8,1043.5 736.2,1044.0 736.6,1048.7 737.0,1044.9 737.5,1047.8 737.9,1048.3 738.3,1045.2 738.7,1047.2 739.2,1046.7 739.6,1044.7 740.0,1047.2 740.4,1047.5 740.9,1045.8 741.3,1044.5 741.7,1045.5 742.1,1048.5 742.5,1047.2 743.0,1046.5 743.4,1043.4 743.8,1045.0 744.2,1045.0 744.7,1044.5 745.1,1046.7 745.5,1045.6 745.9,1045.6 746.3,1047.7 746.8,1046.3 747.2,1045.5 747.6,1047.8 748.0,1045.1 748.5,1045.2 748.9,1044.8 749.3,1047.4 749.7,1046.1 750.2,1044.2 750.6,1045.1 751.0,1047.4 751.4,1046.0 751.8,1044.2 752.3,1046.4 752.7,1045.8 753.1,1042.6 753.5,1046.4 754.0,1046.5 754.4,1047.8 754.8,1047.3 755.2,1044.2 755.6,1046.5 756.1,1048.1 756.5,1047.7 756.9,1046.3 757.3,1045.2 757.8,1047.4 758.2,1045.3 758.6,1047.1 759.0,1045.8 759.5,1045.6 759.9,1045.5 760.3,1047.0 760.7,1046.6 761.1,1045.6 761.6,1048.3 762.0,1046.1 762.4,1045.6 762.8,1044.9 763.3,1046.5 763.7,1046.7 764.1,1046.2 764.5,1047.5 764.9,1046.7 765.4,1045.8 765.8,1046.0 766.2,1047.9 766.6,1046.9 767.1,1049.5 767.5,1045.3 767.9,1047.2 768.3,1046.1 768.7,1048.1 769.2,1046.6 769.6,1045.8 770.0,1045.0 770.4,1048.4 770.9,1045.3 771.3,1046.7 771.7,1047.6 772.1,1045.8 772.6,1046.9 773.0,1046.9 773.4,1047.5 773.8,1046.2 774.2,1046.5 774.7,1046.8 775.1,1047.9 775.5,1047.3 775.9,1045.9 776.4,1044.7 776.8,1046.6 777.2,1044.5 777.6,1046.5 778.0,1048.1 778.5,1045.6 778.9,1047.9 779.3,1046.0 779.7,1045.0 780.2,1047.0 780.6,1046.7 781.0,1043.0 781.4,1046.2 781.9,1046.2 782.3,1045.4 782.7,1046.7 783.1,1046.7 783.5,1046.0 784.0,1050.0 784.4,1044.5 784.8,1048.1 785.2,1048.1 785.7,1045.8 786.1,1046.5 786.5,1048.4 786.9,1046.3 787.3,1048.2 787.8,1047.6 788.2,1048.8 788.6,1047.8 789.0,1046.0 789.5,1046.4 789.9,1046.1 790.3,1045.2 790.7,1046.7 791.2,1047.6 791.6,1047.0 792.0,1044.2 792.4,1046.5 792.8,1046.1 793.3,1046.7 793.7,1046.2 794.1,1046.0 794.5,1046.6 795.0,1046.8 795.4,1047.7 795.8,1047.8 796.2,1046.0 796.6,1045.5 797.1,1045.3 797.5,1046.5 797.9,1047.8 798.3,1045.7 798.8,1045.7 799.2,1048.8 799.6,1045.5 800.0,1045.8 800.4,1044.2 800.9,1048.3 801.3,1048.5 801.7,1045.5 802.1,1049.2 802.6,1047.7 803.0,1048.2 803.4,1048.1 803.8,1049.4 804.3,1047.0 804.7,1045.2 805.1,1046.0 805.5,1046.0 805.9,1047.2 806.4,1044.6 806.8,1045.9 807.2,1045.1 807.6,1048.9 808.1,1046.2 808.5,1048.3 808.9,1046.2 809.3,1046.4 809.7,1048.3 810.2,1046.4 810.6,1045.0 811.0,1045.9 811.4,1045.8 811.9,1047.9 812.3,1047.7 812.7,1048.3 813.1,1046.5 813.6,1045.0 814.0,1046.0 814.4,1046.7 814.8,1048.3 815.2,1046.0 815.7,1047.0 816.1,1049.4 816.5,1049.2 816.9,1047.2 817.4,1048.0 817.8,1044.3 818.2,1046.6 818.6,1048.2 819.0,1047.4 819.5,1044.4 819.9,1048.1 820.3,1045.6 820.7,1046.1 821.2,1044.6 821.6,1045.9 822.0,1047.3 822.4,1045.9 822.9,1046.6 823.3,1045.3 823.7,1046.8 824.1,1043.8 824.5,1046.9 825.0,1046.1 825.4,1047.7 825.8,1046.5 826.2,1046.7 826.7,1046.5 827.1,1045.4 827.5,1047.5 827.9,1047.9 828.3,1045.1 828.8,1047.1 829.2,1047.7 829.6,1045.1 830.0,1045.6 830.5,1050.5 830.9,1047.3 831.3,1045.6 831.7,1045.5 832.1,1047.5 832.6,1044.5 833.0,1047.9 833.4,1047.1 833.8,1046.5 834.3,1046.7 834.7,1045.6 835.1,1045.3 835.5,1046.8 836.0,1044.7 836.4,1047.7 836.8,1047.0 837.2,1044.2 837.6,1046.6 838.1,1045.2 838.5,1047.4 838.9,1047.1 839.3,1046.9 839.8,1046.5 840.2,1047.2 840.6,1046.7 841.0,1045.8 841.4,1045.0 841.9,1046.6 842.3,1045.8 842.7,1045.4 843.1,1048.3 843.6,1049.0 844.0,1044.4 844.4,1044.8 844.8,1046.7 845.3,1046.2 845.7,1048.1 846.1,1048.8 846.5,1046.3 846.9,1048.9 847.4,1045.4 847.8,1047.8 848.2,1046.4 848.6,1044.0 849.1,1044.0 849.5,1047.2 849.9,1045.2 850.3,1048.3 850.7,1047.6 851.2,1046.3 851.6,1044.8 852.0,1047.6 852.4,1046.0 852.9,1046.6 853.3,1048.6 853.7,1047.0 854.1,1044.6 854.6,1046.9 855.0,1046.1 855.4,1045.6 855.8,1047.9 856.2,1045.0 856.7,1044.6 857.1,1044.5 857.5,1044.9 857.9,1047.5 858.4,1047.7 858.8,1048.0 859.2,1048.1 859.6,1048.0 860.0,1045.4 860.5,1044.7 860.9,1047.8 861.3,1045.7 861.7,1048.7 862.2,1047.3 862.6,1048.3 863.0,1049.2 863.4,1046.8 863.8,1046.7 864.3,1047.5 864.7,1047.6 865.1,1048.3 865.5,1047.1 866.0,1047.7 866.4,1046.5 866.8,1048.6 867.2,1046.6 867.7,1046.1 868.1,1045.1 868.5,1045.4 868.9,1046.6 869.3,1047.9 869.8,1049.6 870.2,1046.9 870.6,1044.8 871.0,1044.5 871.5,1050.6 871.9,1048.0 872.3,1047.4 872.7,1048.4 873.1,1046.6 873.6,1046.9 874.0,1047.7 874.4,1047.0 874.8,1049.2 875.3,1048.3 875.7,1048.2 876.1,1045.6 876.5,1049.3 877.0,1047.2 877.4,1045.8 877.8,1047.0 878.2,1045.8 878.6,1047.9 879.1,1046.3 879.5,1045.6 879.9,1043.7 880.3,1045.9 880.8,1044.9 881.2,1046.9 881.6,1046.8 882.0,1044.7 882.4,1046.1 882.9,1044.9 883.3,1045.9 883.7,1043.9 884.1,1043.5 884.6,1048.2 885.0,1044.3 885.4,1046.3 885.8,1046.3 886.3,1047.1 886.7,1045.9 887.1,1048.6 887.5,1048.0 887.9,1048.1 888.4,1046.5 888.8,1045.6 889.2,1045.9 889.6,1046.4 890.1,1047.8 890.5,1049.5 890.9,1046.4 891.3,1046.8 891.7,1046.4 892.2,1044.9 892.6,1047.2 893.0,1047.3 893.4,1050.3 893.9,1046.2 894.3,1047.0 894.7,1048.1 895.1,1046.4 895.5,1048.5 896.0,1047.8 896.4,1044.1 896.8,1045.9 897.2,1045.6 897.7,1045.9 898.1,1046.1 898.5,1046.7 898.9,1043.7 899.4,1047.1 899.8,1045.9 900.2,1047.3 900.6,1047.5 901.0,1050.6 901.5,1049.8 901.9,1044.8 902.3,1044.9 902.7,1047.7 903.2,1047.1 903.6,1046.1 904.0,1048.5 904.4,1044.5 904.8,1048.5 905.3,1048.1 905.7,1051.1 906.1,1044.8 906.5,1047.0 907.0,1044.7 907.4,1048.5 907.8,1046.6 908.2,1046.9 908.7,1046.8 909.1,1044.0 909.5,1043.8 909.9,1045.1 910.3,1047.7 910.8,1045.8 911.2,1045.1 911.6,1046.3 912.0,1046.3 912.5,1046.4 912.9,1048.4 913.3,1046.7 913.7,1044.8 914.1,1048.5 914.6,1047.0 915.0,1045.9 915.4,1049.1 915.8,1047.3 916.3,1049.6 916.7,1048.0 917.1,1049.2 917.5,1048.4 918.0,1047.8 918.4,1047.5 918.8,1047.4 919.2,1050.6 919.6,1044.8 920.1,1047.5 920.5,1048.7 920.9,1048.0 921.3,1046.7 921.8,1048.6 922.2,1047.7 922.6,1047.8 923.0,1046.4 923.4,1048.2 923.9,1046.5 924.3,1046.6 924.7,1047.4 925.1,1045.4 925.6,1047.1 926.0,1048.9 926.4,1046.7 926.8,1047.0 927.2,1047.2 927.7,1046.8 928.1,1043.8 928.5,1046.8 928.9,1046.5 929.4,1047.5 929.8,1045.3 930.2,1047.3 930.6,1048.3 931.1,1049.0 931.5,1046.4 931.9,1046.1 932.3,1049.5 932.7,1048.2 933.2,1046.3 933.6,1045.7 934.0,1049.1 934.4,1047.8 934.9,1046.0 935.3,1048.0 935.7,1047.9 936.1,1048.0 936.5,1049.1 937.0,1047.1 937.4,1046.8 937.8,1049.3 938.2,1047.1 938.7,1045.6 939.1,1046.9 939.5,1045.8 939.9,1048.0 940.4,1045.2 940.8,1048.4 941.2,1044.5 941.6,1047.9 942.0,1048.3 942.5,1048.5 942.9,1047.8 943.3,1048.0 943.7,1048.2 944.2,1047.7 944.6,1046.3 945.0,1046.0 945.4,1047.7 945.8,1045.5 946.3,1048.7 946.7,1048.8 947.1,1048.9 947.5,1046.4 948.0,1049.5 948.4,1049.3 948.8,1045.4 949.2,1044.8 949.7,1045.3 950.1,1049.4 950.5,1047.3 950.9,1046.1 951.3,1047.1 951.8,1049.6 952.2,1047.8 952.6,1049.8 953.0,1049.1 953.5,1044.2 953.9,1046.3 954.3,1049.4 954.7,1049.5 955.1,1046.6 955.6,1048.2 956.0,1046.5 956.4,1048.3 956.8,1047.6 957.3,1047.0 957.7,1048.8 958.1,1050.1 958.5,1049.1 958.9,1048.3 959.4,1047.6 959.8,1047.4 960.2,1047.4 960.6,1046.6 961.1,1048.6 961.5,1045.3 961.9,1044.4 962.3,1046.8 962.8,1047.1 963.2,1045.5 963.6,1046.4 964.0,1047.1 964.4,1047.6 964.9,1048.4 965.3,1049.1 965.7,1046.4 966.1,1045.6 966.6,1048.9 967.0,1047.5 967.4,1047.1 967.8,1048.0 968.2,1048.5 968.7,1047.9 969.1,1050.2 969.5,1047.5 969.9,1047.8 970.4,1044.3 970.8,1046.0 971.2,1047.9 971.6,1047.4 972.1,1044.9 972.5,1045.1 972.9,1047.1 973.3,1047.6 973.7,1049.5 974.2,1047.9 974.6,1047.7 975.0,1048.5 975.4,1044.9 975.9,1050.1 976.3,1047.6 976.7,1046.8 977.1,1046.8 977.5,1045.0 978.0,1049.5 978.4,1048.5 978.8,1047.3 979.2,1047.2 979.7,1048.0 980.1,1048.5 980.5,1045.9 980.9,1049.0 981.4,1048.3 981.8,1045.3 982.2,1044.9 982.6,1046.2 983.0,1048.7 983.5,1048.7 983.9,1048.8 984.3,1049.1 984.7,1048.1 985.2,1045.6 985.6,1047.1 986.0,1048.6 986.4,1048.6 986.8,1049.2 987.3,1045.7 987.7,1050.4 988.1,1047.1 988.5,1049.6 989.0,1049.0 989.4,1049.6 989.8,1046.1 990.2,1047.6 990.6,1043.5 991.1,1049.0 991.5,1049.1 991.9,1046.6 992.3,1046.7 992.8,1047.9 993.2,1050.4 993.6,1045.4 994.0,1046.7 994.5,1046.9 994.9,1048.4 995.3,1046.6 995.7,1048.3 996.1,1047.5 996.6,1047.8 997.0,1045.7 997.4,1048.2 997.8,1048.1 998.3,1045.9 998.7,1047.2 999.1,1047.6 999.5,1047.9 999.9,1046.2 1000.4,1048.5 1000.8,1046.9 1001.2,1044.6 1001.6,1047.0 1002.1,1048.7 1002.5,1049.3 1002.9,1047.4 1003.3,1049.4 1003.8,1049.9 1004.2,1048.7 1004.6,1049.2 1005.0,1046.3 1005.4,1049.7 1005.9,1045.3 1006.3,1048.7 1006.7,1047.4 1007.1,1046.6 1007.6,1047.3 1008.0,1046.6 1008.4,1049.1 1008.8,1050.9 1009.2,1047.9 1009.7,1050.1 1010.1,1048.5 1010.5,1046.3 1010.9,1047.9 1011.4,1048.5 1011.8,1049.3 1012.2,1048.1 1012.6,1047.9 1013.1,1050.0 1013.5,1047.2 1013.9,1049.2 1014.3,1047.4 1014.7,1048.3 1015.2,1046.2 1015.6,1046.4 1016.0,1047.7 1016.4,1047.8 1016.9,1047.1 1017.3,1045.7 1017.7,1046.1 1018.1,1047.4 1018.5,1047.2 1019.0,1045.4 1019.4,1050.0 1019.8,1046.9 1020.2,1049.0 1020.7,1045.7 1021.1,1048.4 1021.5,1047.8 1021.9,1049.2 1022.3,1047.6 1022.8,1046.5 1023.2,1045.2 1023.6,1049.5 1024.0,1048.3 1024.5,1042.0 1024.9,1046.3 1025.3,1047.6 1025.7,1046.9 1026.2,1051.5 1026.6,1045.3 1027.0,1047.4 1027.4,1049.7 1027.8,1045.9 1028.3,1048.5 1028.7,1049.1 1029.1,1046.9 1029.5,1047.0 1030.0,1048.3 1030.4,1047.7 1030.8,1049.6 1031.2,1049.7 1031.6,1046.3 1032.1,1045.7 1032.5,1047.0 1032.9,1047.1 1033.3,1048.2 1033.8,1047.8 1034.2,1049.0 1034.6,1045.1 1035.0,1048.5 1035.5,1047.1 1035.9,1047.7 1036.3,1049.7 1036.7,1044.8 1037.1,1048.2 1037.6,1048.8 1038.0,1047.5 1038.4,1049.0 1038.8,1047.6 1039.3,1049.1 1039.7,1046.9 1040.1,1047.6 1040.5,1049.7 1040.9,1046.2 1041.4,1047.4 1041.8,1049.3 1042.2,1047.2 1042.6,1047.1 1043.1,1045.0 1043.5,1048.9 1043.9,1046.4 1044.3,1047.8 1044.8,1046.8 1045.2,1048.1 1045.6,1047.8 1046.0,1047.0 1046.4,1049.4 1046.9,1050.8 1047.3,1047.7 1047.7,1048.3 1048.1,1047.6 1048.6,1046.8 1049.0,1048.0 1049.4,1046.0 1049.8,1047.8 1050.2,1047.5 1050.7,1046.5 1051.1,1046.8 1051.5,1047.8 1051.9,1047.5 1052.4,1048.8 1052.8,1048.6 1053.2,1047.5 1053.6,1046.5 1054.0,1048.3 1054.5,1046.5 1054.9,1044.9 1055.3,1044.6 1055.7,1047.7 1056.2,1046.2 1056.6,1046.8 1057.0,1046.5 1057.4,1046.5 1057.9,1046.9 1058.3,1046.5 1058.7,1047.4 1059.1,1048.1 1059.5,1047.3 1060.0,1047.0 1060.4,1045.9 1060.8,1047.1 1061.2,1046.6 1061.7,1045.6 1062.1,1049.1 1062.5,1048.1 1062.9,1046.9 1063.3,1047.7 1063.8,1049.2 1064.2,1046.3 1064.6,1047.8 1065.0,1049.2 1065.5,1045.0 1065.9,1049.6 1066.3,1047.7 1066.7,1048.7 1067.2,1047.6 1067.6,1046.9 1068.0,1048.9 1068.4,1047.9 1068.8,1047.9 1069.3,1049.2 1069.7,1046.0 1070.1,1047.5 1070.5,1048.2 1071.0,1048.7 1071.4,1048.2 1071.8,1047.5 1072.2,1048.4 1072.6,1045.9 1073.1,1051.5 1073.5,1050.9 1073.9,1048.1 1074.3,1050.5 1074.8,1047.9 1075.2,1048.7 1075.6,1046.9 1076.0,1047.2 1076.5,1045.9 1076.9,1046.4 1077.3,1045.9 1077.7,1047.0 1078.1,1046.2 1078.6,1047.1 1079.0,1048.6 1079.4,1049.6 1079.8,1049.5 1080.3,1047.1 1080.7,1051.3 1081.1,1047.5 1081.5,1048.9 1081.9,1046.7 1082.4,1047.5 1082.8,1048.9 1083.2,1047.8 1083.6,1051.1 1084.1,1047.4 1084.5,1047.1 1084.9,1050.5 1085.3,1046.6 1085.7,1048.0 1086.2,1047.6 1086.6,1049.9 1087.0,1046.9 1087.4,1047.0 1087.9,1047.8 1088.3,1049.3 1088.7,1046.7 1089.1,1046.0 1089.6,1047.2 1090.0,1046.4 1090.4,1048.7 1090.8,1047.6 1091.2,1047.3 1091.7,1047.6 1092.1,1043.7 1092.5,1047.2 1092.9,1048.6 1093.4,1046.6 1093.8,1049.4 1094.2,1047.3 1094.6,1046.7 1095.0,1048.5 1095.5,1048.3 1095.9,1049.2 1096.3,1047.6 1096.7,1048.8 1097.2,1045.3 1097.6,1046.9 1098.0,1048.1 1098.4,1049.9 1098.9,1044.8 1099.3,1045.9 1099.7,1047.1 1100.1,1047.5 1100.5,1047.5 1101.0,1048.5 1101.4,1045.1 1101.8,1047.5 1102.2,1049.9 1102.7,1048.8 1103.1,1051.6 1103.5,1046.8 1103.9,1046.7 1104.3,1045.2 1104.8,1044.8 1105.2,1048.9 1105.6,1047.2 1106.0,1046.4 1106.5,1046.7 1106.9,1048.6 1107.3,1046.7 1107.7,1047.1 1108.2,1045.8 1108.6,1047.9 1109.0,1048.2 1109.4,1048.6 1109.8,1048.4 1110.3,1049.0 1110.7,1048.3 1111.1,1047.1 1111.5,1047.2 1112.0,1045.9 1112.4,1046.3 1112.8,1047.0 1113.2,1049.5 1113.6,1047.0 1114.1,1046.2 1114.5,1049.8 1114.9,1049.5 1115.3,1049.3 1115.8,1049.4 1116.2,1048.3 1116.6,1049.3 1117.0,1047.3 1117.4,1049.7 1117.9,1048.1 1118.3,1048.7 1118.7,1049.3 1119.1,1046.4 1119.6,1047.9 1120.0,1047.1 1120.4,1048.4 1120.8,1046.9 1121.3,1047.0 1121.7,1048.2 1122.1,1050.5 1122.5,1046.8 1122.9,1046.9 1123.4,1047.7 1123.8,1047.6 1124.2,1047.8 1124.6,1047.7 1125.1,1049.4 1125.5,1048.0 1125.9,1047.5 1126.3,1048.9 1126.7,1049.4 1127.2,1045.3 1127.6,1047.1 1128.0,1048.4 1128.4,1048.7 1128.9,1051.8 1129.3,1050.0 1129.7,1048.3 1130.1,1046.1 1130.6,1051.0 1131.0,1049.0 1131.4,1045.2 1131.8,1047.0 1132.2,1047.4 1132.7,1046.3 1133.1,1048.2 1133.5,1048.2 1133.9,1047.0 1134.4,1046.8 1134.8,1049.5 1135.2,1045.8 1135.6,1050.5 1136.0,1049.0 1136.5,1043.5 1136.9,1048.7 1137.3,1047.0 1137.7,1049.5 1138.2,1048.5 1138.6,1049.1 1139.0,1048.6 1139.4,1047.1 1139.9,1045.5 1140.3,1046.7 1140.7,1045.8 1141.1,1048.8 1141.5,1045.9 1142.0,1047.2 1142.4,1046.0 1142.8,1048.6 1143.2,1048.4 1143.7,1046.0 1144.1,1047.1 1144.5,1047.9 1144.9,1049.0 1145.3,1048.2 1145.8,1047.3 1146.2,1047.0 1146.6,1048.9 1147.0,1048.6 1147.5,1047.4 1147.9,1049.7 1148.3,1046.7 1148.7,1048.1 1149.1,1048.3 1149.6,1051.6 1150.0,1050.4 1150.4,1049.6 1150.8,1049.0 1151.3,1049.7 1151.7,1047.6 1152.1,1048.0 1152.5,1048.5 1153.0,1051.1 1153.4,1046.1 1153.8,1048.6 1154.2,1047.3 1154.6,1049.1 1155.1,1048.2 1155.5,1047.2 1155.9,1047.8 1156.3,1046.8 1156.8,1048.4 1157.2,1045.3 1157.6,1050.9 1158.0,1049.0 1158.4,1046.8 1158.9,1048.6 1159.3,1048.8 1159.7,1050.8 1160.1,1046.5 1160.6,1051.0 1161.0,1047.5 1161.4,1047.9 1161.8,1046.9 1162.3,1046.1 1162.7,1049.2 1163.1,1049.4 1163.5,1048.7 1163.9,1050.7 1164.4,1047.0 1164.8,1048.8 1165.2,1048.0 1165.6,1049.9 1166.1,1048.2 1166.5,1049.1 1166.9,1048.4 1167.3,1049.8 1167.7,1046.8 1168.2,1049.2 1168.6,1052.0 1169.0,1047.3 1169.4,1048.7 1169.9,1049.6 1170.3,1044.6 1170.7,1048.4 1171.1,1050.2 1171.6,1049.2 1172.0,1047.7 1172.4,1048.6 1172.8,1046.5 1173.2,1046.7 1173.7,1049.4 1174.1,1048.2 1174.5,1047.4 1174.9,1048.9 1175.4,1049.0 1175.8,1047.0 1176.2,1047.6 1176.6,1050.3 1177.0,1049.1 1177.5,1048.9 1177.9,1048.5 1178.3,1049.4 1178.7,1046.4 1179.2,1049.7 1179.6,1049.9 1180.0,1048.0 1180.4,1051.6 1180.8,1049.8 1181.3,1047.4 1181.7,1050.2 1182.1,1049.6 1182.5,1046.7 1183.0,1047.7 1183.4,1048.2 1183.8,1048.0 1184.2,1049.3 1184.7,1047.9 1185.1,1048.6 1185.5,1044.7 1185.9,1047.5 1186.3,1048.8 1186.8,1048.4 1187.2,1048.2 1187.6,1050.3 1188.0,1049.5 1188.5,1046.1 1188.9,1050.4 1189.3,1049.2 1189.7,1046.8 1190.1,1046.1 1190.6,1049.8 1191.0,1046.2 1191.4,1048.9 1191.8,1045.9 1192.3,1047.6 1192.7,1048.7 1193.1,1047.3 1193.5,1047.5 1194.0,1049.5 1194.4,1045.2 1194.8,1048.8 1195.2,1046.7 1195.6,1049.0 1196.1,1051.0 1196.5,1050.0 1196.9,1048.5 1197.3,1047.3 1197.8,1045.8 1198.2,1048.2 1198.6,1048.8 1199.0,1050.1 1199.4,1048.4 1199.9,1047.9 1200.3,1051.6 1200.7,1046.5 1201.1,1046.7 1201.6,1045.0 1202.0,1049.7 1202.4,1048.3 1202.8,1048.3 1203.3,1050.3 1203.7,1049.6 1204.1,1049.8 1204.5,1047.6 1204.9,1047.7 1205.4,1046.4 1205.8,1049.0 1206.2,1050.4 1206.6,1047.7 1207.1,1047.8 1207.5,1047.4 1207.9,1046.6 1208.3,1049.2 1208.7,1047.2 1209.2,1049.9 1209.6,1048.2 1210.0,1047.4 1210.4,1048.6 1210.9,1048.1 1211.3,1050.4 1211.7,1049.3 1212.1,1048.2 1212.5,1050.2 1213.0,1049.6 1213.4,1044.9 1213.8,1048.0 1214.2,1049.6 1214.7,1049.9 1215.1,1046.4 1215.5,1052.5 1215.9,1049.0 1216.4,1047.6 1216.8,1049.3 1217.2,1047.8 1217.6,1050.1 1218.0,1048.6 1218.5,1048.5 1218.9,1048.5 1219.3,1048.4 1219.7,1048.5 1220.2,1046.9 1220.6,1049.0 1221.0,1049.4 1221.4,1049.0 1221.8,1049.0 1222.3,1050.8 1222.7,1051.4 1223.1,1050.6 1223.5,1048.2 1224.0,1049.6 1224.4,1049.2 1224.8,1044.4 1225.2,1047.0 1225.7,1048.9 1226.1,1049.5 1226.5,1046.6 1226.9,1049.8 1227.3,1046.8 1227.8,1047.8 1228.2,1046.6 1228.6,1049.7 1229.0,1047.3 1229.5,1051.3 1229.9,1048.9 1230.3,1047.1 1230.7,1047.6 1231.1,1051.3 1231.6,1047.6 1232.0,1048.0 1232.4,1048.7 1232.8,1049.7 1233.3,1049.1 1233.7,1049.5 1234.1,1047.3 1234.5,1048.0 1235.0,1047.1 1235.4,1047.6 1235.8,1050.5 1236.2,1048.5 1236.6,1045.5 1237.1,1050.3 1237.5,1048.2 1237.9,1049.8 1238.3,1050.0 1238.8,1048.4 1239.2,1047.3 1239.6,1047.5 1240.0,1048.0 1240.4,1047.3 1240.9,1051.0 1241.3,1047.5 1241.7,1048.1 1242.1,1048.9 1242.6,1048.7 1243.0,1049.9 1243.4,1047.0 1243.8,1049.8 1244.2,1050.8 1244.7,1048.7 1245.1,1049.5 1245.5,1048.8 1245.9,1046.5 1246.4,1048.9 1246.8,1048.5 1247.2,1045.4 1247.6,1050.7 1248.1,1048.2 1248.5,1047.0 1248.9,1046.5 1249.3,1045.4 1249.7,1049.6 1250.2,1047.8 1250.6,1048.8 1251.0,1049.4 1251.4,1049.7 1251.9,1050.8 1252.3,1048.2 1252.7,1047.6 1253.1,1050.2 1253.5,1047.6 1254.0,1049.5 1254.4,1050.2 1254.8,1052.5 1255.2,1047.1 1255.7,1047.7 1256.1,1049.2 1256.5,1049.3 1256.9,1050.6 1257.4,1047.9 1257.8,1048.8 1258.2,1047.9 1258.6,1048.4 1259.0,1050.8 1259.5,1051.0 1259.9,1048.1 1260.3,1051.2 1260.7,1048.3 1261.2,1047.4 1261.6,1050.6 1262.0,1047.7 1262.4,1048.6 1262.8,1047.9 1263.3,1049.6 1263.7,1048.7 1264.1,1048.0 1264.5,1046.0 1265.0,1047.6 1265.4,1047.9 1265.8,1050.5 1266.2,1048.2 1266.7,1049.6 1267.1,1048.7 1267.5,1048.2 1267.9,1047.2 1268.3,1047.8 1268.8,1048.4 1269.2,1048.7 1269.6,1046.6 1270.0,1049.9 1270.5,1048.6 1270.9,1046.6 1271.3,1048.9 1271.7,1047.4 1272.1,1047.3 1272.6,1045.7 1273.0,1047.0 1273.4,1051.0 1273.8,1048.6 1274.3,1048.2 1274.7,1047.4 1275.1,1048.1 1275.5,1045.9 1275.9,1047.0 1276.4,1050.4 1276.8,1049.6 1277.2,1051.7 1277.6,1046.1 1278.1,1048.9 1278.5,1048.9 1278.9,1051.0 1279.3,1049.4 1279.8,1048.1 1280.2,1049.3 1280.6,1049.3 1281.0,1049.7 1281.4,1045.9 1281.9,1049.6 1282.3,1050.9 1282.7,1049.6 1283.1,1049.3 1283.6,1049.0 1284.0,1049.2 1284.4,1050.5 1284.8,1049.1 1285.2,1048.3 1285.7,1050.9 1286.1,1046.0 1286.5,1046.4 1286.9,1051.5 1287.4,1049.4 1287.8,1047.4 1288.2,1046.9 1288.6,1046.2 1289.1,1051.6 1289.5,1050.5 1289.9,1049.6 1290.3,1048.1 1290.7,1050.5 1291.2,1048.2 1291.6,1048.2 1292.0,1047.8 1292.4,1050.8 1292.9,1048.6 1293.3,1048.8 1293.7,1049.5 1294.1,1046.9 1294.5,1049.3 1295.0,1046.7 1295.4,1049.7 1295.8,1046.3 1296.2,1046.4 1296.7,1050.0 1297.1,1048.3 1297.5,1048.3 1297.9,1050.2 1298.4,1047.6 1298.8,1047.9 1299.2,1050.1 1299.6,1048.6 1300.0,1047.5 1300.5,1049.0 1300.9,1049.8 1301.3,1046.4 1301.7,1050.2 1302.2,1048.3 1302.6,1047.1 1303.0,1047.6 1303.4,1051.5 1303.8,1049.2 1304.3,1048.9 1304.7,1049.0 1305.1,1047.8 1305.5,1047.9 1306.0,1048.5 1306.4,1048.3 1306.8,1047.2 1307.2,1046.9 1307.6,1051.5 1308.1,1045.5 1308.5,1049.5 1308.9,1047.5 1309.3,1051.1 1309.8,1049.4 1310.2,1050.5 1310.6,1047.1 1311.0,1047.4 1311.5,1048.7 1311.9,1048.9 1312.3,1048.1 1312.7,1050.1 1313.1,1049.6 1313.6,1049.8 1314.0,1047.5 1314.4,1048.6 1314.8,1050.6 1315.3,1048.2 1315.7,1047.9 1316.1,1046.6 1316.5,1049.5 1316.9,1048.1 1317.4,1045.6 1317.8,1049.2 1318.2,1049.2 1318.6,1047.9 1319.1,1049.4 1319.5,1048.7 1319.9,1049.4 1320.3,1049.9 1320.8,1047.4 1321.2,1049.3 1321.6,1050.2 1322.0,1049.1 1322.4,1048.9 1322.9,1048.3 1323.3,1047.3 1323.7,1046.1 1324.1,1050.5 1324.6,1049.1 1325.0,1051.4 1325.4,1048.4 1325.8,1048.0 1326.2,1049.7 1326.7,1050.1 1327.1,1050.2 1327.5,1051.0 1327.9,1047.8 1328.4,1045.9 1328.8,1050.4 1329.2,1046.4 1329.6,1048.9 1330.1,1050.8 1330.5,1047.9 1330.9,1047.7 1331.3,1048.2 1331.7,1049.2 1332.2,1046.3 1332.6,1049.2 1333.0,1047.9 1333.4,1047.8 1333.9,1050.1 1334.3,1051.5 1334.7,1051.4 1335.1,1049.4 1335.5,1048.3 1336.0,1051.4 1336.4,1049.9 1336.8,1046.6 1337.2,1051.5 1337.7,1048.2 1338.1,1048.3 1338.5,1047.7 1338.9,1051.0 1339.3,1048.3 1339.8,1050.9 1340.2,1046.9 1340.6,1050.1 1341.0,1048.3 1341.5,1050.0 1341.9,1048.7 1342.3,1051.1 1342.7,1048.4 1343.2,1048.0 1343.6,1048.9 1344.0,1046.5 1344.4,1048.3 1344.8,1047.7 1345.3,1048.1 1345.7,1046.1 1346.1,1049.8 1346.5,1049.3 1347.0,1049.2 1347.4,1048.0 1347.8,1048.5 1348.2,1047.6 1348.6,1048.4 1349.1,1049.6 1349.5,1048.9 1349.9,1048.2 1350.3,1052.2 1350.8,1046.8 1351.2,1049.7 1351.6,1049.4 1352.0,1048.5 1352.5,1049.2 1352.9,1051.0 1353.3,1049.2 1353.7,1046.8 1354.1,1047.3 1354.6,1047.0 1355.0,1049.6 1355.4,1049.1 1355.8,1047.3 1356.3,1046.6 1356.7,1048.8 1357.1,1050.2 1357.5,1051.7 1357.9,1046.7 1358.4,1051.1 1358.8,1048.2 1359.2,1047.5 1359.6,1044.0 1360.1,1048.5 1360.5,1049.0 1360.9,1048.1 1361.3,1048.0 1361.8,1046.8 1362.2,1047.7 1362.6,1049.9 1363.0,1051.9 1363.4,1048.3 1363.9,1049.8 1364.3,1046.7 1364.7,1050.7 1365.1,1048.5 1365.6,1049.9 1366.0,1050.1 1366.4,1046.3 1366.8,1048.5 1367.2,1049.0 1367.7,1047.6 1368.1,1049.9 1368.5,1049.3 1368.9,1049.7 1369.4,1045.8 1369.8,1048.3 1370.2,1047.8 1370.6,1047.1 1371.0,1049.0 1371.5,1049.0 1371.9,1051.2 1372.3,1048.0 1372.7,1048.4 1373.2,1049.4 1373.6,1047.0 1374.0,1051.5 1374.4,1048.1 1374.9,1050.8 1375.3,1050.5 1375.7,1049.1 1376.1,1046.8 1376.5,1050.6 1377.0,1050.3 1377.4,1050.6 1377.8,1045.7 1378.2,1048.0 1378.7,1048.2 1379.1,1045.7 1379.5,1048.4 1379.9,1051.9 1380.3,1049.5 1380.8,1050.6 1381.2,1045.7 1381.6,1050.9 1382.0,1048.3 1382.5,1049.6 1382.9,1049.4 1383.3,1048.8 1383.7,1049.0 1384.2,1049.8 1384.6,1050.6 1385.0,1049.8 1385.4,1050.4 1385.8,1050.2 1386.3,1048.6 1386.7,1049.0 1387.1,1048.1 1387.5,1049.2 1388.0,1045.9 1388.4,1049.9 1388.8,1050.3 1389.2,1047.2 1389.6,1049.9 1390.1,1048.6 1390.5,1047.3 1390.9,1048.9 1391.3,1049.3 1391.8,1047.3 1392.2,1048.3 1392.6,1049.6 1393.0,1050.6 1393.5,1049.4 1393.9,1051.3 1394.3,1050.1 1394.7,1050.5 1395.1,1048.4 1395.6,1047.7 1396.0,1049.8 1396.4,1049.5 1396.8,1050.5 1397.3,1050.9 1397.7,1049.5 1398.1,1048.0 1398.5,1048.1 1398.9,1047.9 1399.4,1049.2 1399.8,1052.9 1400.2,1047.4 1400.6,1046.8 1401.1,1047.4 1401.5,1047.5 1401.9,1047.2 1402.3,1044.8 1402.7,1048.3 1403.2,1046.5 1403.6,1047.6 1404.0,1047.8 1404.4,1049.0 1404.9,1049.3 1405.3,1050.5 1405.7,1047.9 1406.1,1049.3 1406.6,1050.6 1407.0,1049.9 1407.4,1050.6 1407.8,1046.4 1408.2,1049.2 1408.7,1048.6 1409.1,1050.6 1409.5,1050.4 1409.9,1047.2 1410.4,1049.2 1410.8,1048.5 1411.2,1046.0 1411.6,1045.6 1412.0,1047.8 1412.5,1048.1 1412.9,1048.4 1413.3,1049.2 1413.7,1045.7 1414.2,1050.6 1414.6,1048.9 1415.0,1051.7 1415.4,1050.7 1415.9,1048.2 1416.3,1048.1 1416.7,1048.3 1417.1,1049.3 1417.5,1049.9 1418.0,1049.6 1418.4,1049.4 1418.8,1047.1 1419.2,1046.6 1419.7,1048.1 1420.1,1049.6 1420.5,1050.2 1420.9,1048.3 1421.3,1049.1 1421.8,1051.6 1422.2,1046.7 1422.6,1048.8 1423.0,1049.3 1423.5,1050.1 1423.9,1050.1 1424.3,1047.4 1424.7,1050.2 1425.2,1048.7 1425.6,1047.8 1426.0,1046.0 1426.4,1047.9 1426.8,1048.9 1427.3,1049.5 1427.7,1047.5 1428.1,1047.3 1428.5,1049.4 1429.0,1047.9 1429.4,1049.0 1429.8,1051.3 1430.2,1050.3 1430.6,1047.6 1431.1,1046.6 1431.5,1047.8 1431.9,1049.1 1432.3,1049.9 1432.8,1048.0 1433.2,1048.3 1433.6,1051.3 1434.0,1047.8 1434.4,1049.9 1434.9,1047.8 1435.3,1048.0 1435.7,1047.7 1436.1,1047.2 1436.6,1047.7 1437.0,1050.4 1437.4,1050.3 1437.8,1047.2 1438.3,1048.1 1438.7,1051.2 1439.1,1051.8 1439.5,1047.5 1439.9,1045.4 1440.4,1047.6 1440.8,1049.2 1441.2,1048.4 1441.6,1052.9 1442.1,1050.3 1442.5,1047.3 1442.9,1047.5 1443.3,1052.0 1443.7,1047.0 1444.2,1048.0 1444.6,1047.4 1445.0,1049.1 1445.4,1048.8 1445.9,1050.4 1446.3,1048.3 1446.7,1047.4 1447.1,1050.2 1447.6,1048.2 1448.0,1049.6 1448.4,1047.2 1448.8,1047.3 1449.2,1052.4 1449.7,1048.2 1450.1,1047.8 1450.5,1049.2 1450.9,1048.9 1451.4,1048.8 1451.8,1048.8 1452.2,1048.8 1452.6,1048.8 1453.5,1054.0 1453.5,1365.5"/>
</g>
<g stroke="#000" stroke-width="3.00">
<line stroke-width="3.00" x1="193.50" y1="1427.50" x2="193.50" y2="1437.00"/>
<line stroke-width="3.00" x1="404.50" y1="1427.50" x2="404.50" y2="1437.00"/>
<line stroke-width="3.00" x1="615.50" y1="1427.50" x2="615.50" y2="1437.00"/>
<line stroke-width="2.00" x1="827.00" y1="1427.50" x2="827.00" y2="1437.00"/>
<line stroke-width="3.00" x1="1038.50" y1="1427.50" x2="1038.50" y2="1437.00"/>
<line stroke-width="3.00" x1="1249.50" y1="1427.50" x2="1249.50" y2="1437.00"/>
<line stroke-width="3.00" x1="1461.50" y1="1427.50" x2="1461.50" y2="1437.00"/>
<line x1="129.50" y1="1365.50" x2="120.00" y2="1365.50"/>
<line x1="129.50" y1="1158.50" x2="120.00" y2="1158.50"/>
<line x1="129.50" y1="950.50" x2="120.00" y2="950.50"/>
<line x1="129.50" y1="742.50" x2="120.00" y2="742.50"/>
<line x1="129.50" y1="534.50" x2="120.00" y2="534.50"/>
<line x1="129.50" y1="327.50" x2="120.00" y2="327.50"/>
<line x1="129.50" y1="119.50" x2="120.00" y2="119.50"/>
</g>
<rect x="129.5" y="69.5" width="1395.0" height="1358.0" fill="none" stroke="#000" stroke-width="3.00" stroke-linejoin="miter"/>
<text transform="translate(193.20 1465.00) scale(1 1.030)" font-size="25.30" text-anchor="middle">0</text>
<text transform="translate(404.20 1465.00) scale(1 1.030)" font-size="25.30" text-anchor="middle">500</text>
<text transform="translate(615.70 1465.00) scale(1 1.030)" font-size="25.30" text-anchor="middle">1000</text>
<text transform="translate(826.70 1465.00) scale(1 1.030)" font-size="25.30" text-anchor="middle">1500</text>
<text transform="translate(1038.20 1465.00) scale(1 1.030)" font-size="25.30" text-anchor="middle">2000</text>
<text transform="translate(1249.20 1465.00) scale(1 1.030)" font-size="25.30" text-anchor="middle">2500</text>
<text transform="translate(1461.20 1465.00) scale(1 1.030)" font-size="25.30" text-anchor="middle">3000</text>
<text transform="translate(112.60 1376.10) scale(1 1.030)" font-size="25.30" text-anchor="end">0</text>
<text transform="translate(112.60 1169.10) scale(1 1.030)" font-size="25.30" text-anchor="end">2</text>
<text transform="translate(112.60 961.10) scale(1 1.030)" font-size="25.30" text-anchor="end">4</text>
<text transform="translate(112.60 753.10) scale(1 1.030)" font-size="25.30" text-anchor="end">6</text>
<text transform="translate(112.60 545.10) scale(1 1.030)" font-size="25.30" text-anchor="end">8</text>
<text transform="translate(112.60 338.10) scale(1 1.030)" font-size="25.30" text-anchor="end">10</text>
<text transform="translate(112.60 130.10) scale(1 1.030)" font-size="25.30" text-anchor="end">12</text>
<text transform="translate(828.30 55.00) scale(1 1.010)" font-size="47.62" text-anchor="middle">Battery Discharge Curve</text>
<text transform="translate(827.50 1516.00) scale(1 1.010)" font-size="48.10" font-weight="bold" text-anchor="middle">Voltage [V]</text>
<text transform="translate(61.90 748.80) rotate(-90) scale(1 1.010)" font-size="47.50" font-weight="bold" text-anchor="middle">Time [minutes]</text>
<rect x="1365" y="1298" width="147.2" height="117.5" rx="4" ry="4" fill="#fff" stroke="#cccccc" stroke-width="3.9"/>
<line x1="1370.9" y1="1318.00" x2="1429.1" y2="1318.00" stroke="#00bfff" stroke-width="8.00"/>
<text transform="translate(1445.60 1326.50) scale(1 1.030)" font-size="25.30" text-anchor="start">12V</text>
<line x1="1370.9" y1="1354.75" x2="1429.1" y2="1354.75" stroke="#ffa500" stroke-width="8.00"/>
<text transform="translate(1445.60 1363.25) scale(1 1.030)" font-size="25.30" text-anchor="start">5V</text>
<line x1="1370.9" y1="1391.50" x2="1429.1" y2="1391.50" stroke="#696969" stroke-width="8.00"/>
<text transform="translate(1445.60 1400.00) scale(1 1.030)" font-size="25.30" text-anchor="start">3.3V</text>
</svg>
</body></html>
